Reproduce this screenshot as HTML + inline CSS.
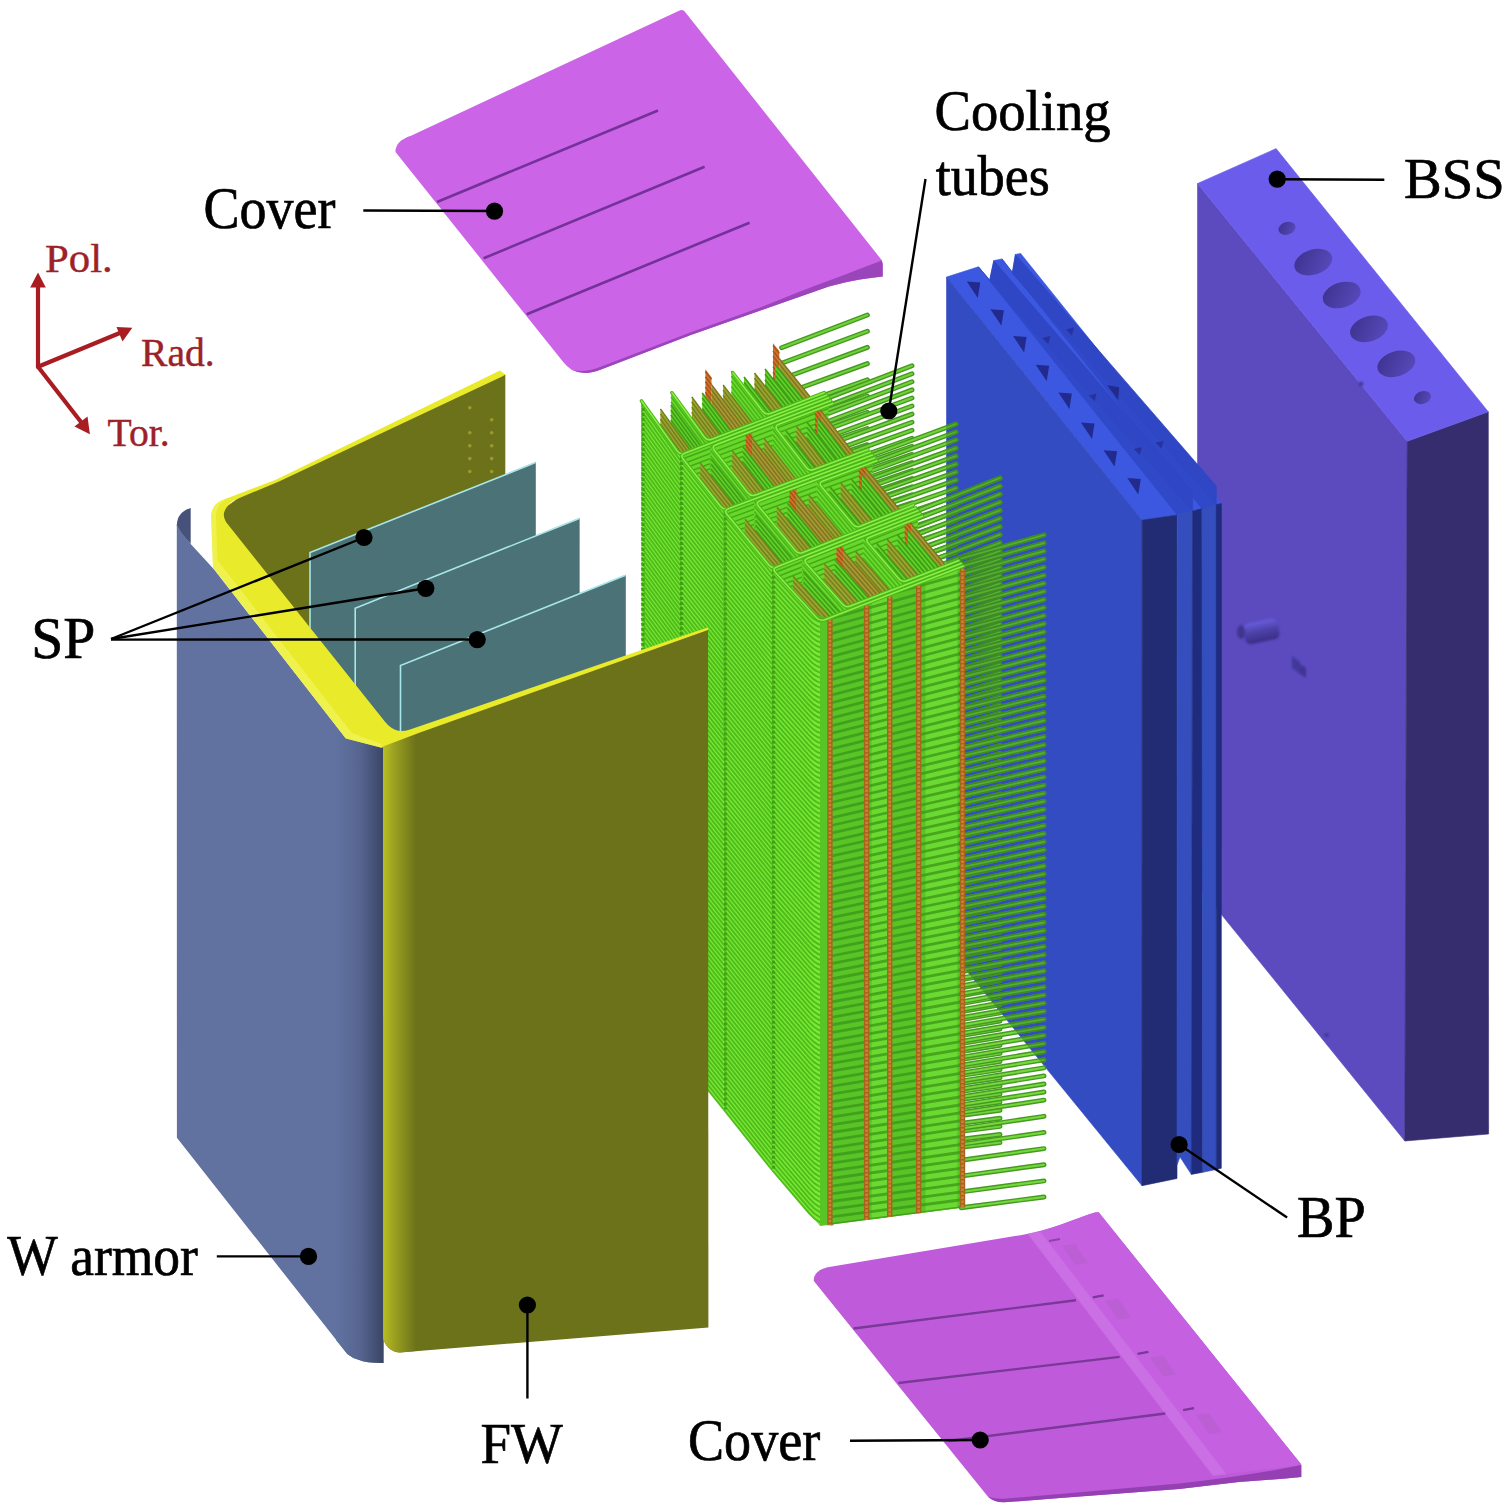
<!DOCTYPE html>
<html><head><meta charset="utf-8"><title>Exploded blanket module</title>
<style>html,body{margin:0;padding:0;background:#fff;}body{width:1506px;height:1510px;overflow:hidden;font-family:"Liberation Serif",serif;}svg{display:block}</style>
</head><body>
<svg width="1506" height="1510" viewBox="0 0 1506 1510">
<defs>
<filter id="b05" x="-20%" y="-20%" width="140%" height="140%"><feGaussianBlur stdDeviation="0.6"/></filter>
<filter id="b1" x="-20%" y="-20%" width="140%" height="140%"><feGaussianBlur stdDeviation="1"/></filter>
<linearGradient id="hg" x1="0" y1="0" x2="1" y2="0.6"><stop offset="0" stop-color="#3b318c"/><stop offset="1" stop-color="#5648b8"/></linearGradient>
<linearGradient id="wag" gradientUnits="userSpaceOnUse" x1="336" y1="0" x2="381.5" y2="0"><stop offset="0" stop-color="#6272a0"/><stop offset=".55" stop-color="#55648f"/><stop offset="1" stop-color="#3c4768"/></linearGradient>
<linearGradient id="fwg" gradientUnits="userSpaceOnUse" x1="383" y1="0" x2="416" y2="0"><stop offset="0" stop-color="#b9bd25"/><stop offset=".35" stop-color="#9aa020"/><stop offset="1" stop-color="#6c721a"/></linearGradient>
<linearGradient id="cyl" x1="0" y1="0" x2="0" y2="1"><stop offset="0" stop-color="#6a5cde"/><stop offset=".45" stop-color="#4e42aa"/><stop offset="1" stop-color="#382e84"/></linearGradient>
<filter id="tb" filterUnits="userSpaceOnUse" x="600" y="280" width="480" height="980"><feGaussianBlur stdDeviation="0.45"/></filter>
</defs>
<rect width="1506" height="1510" fill="#fff"/>
<g id="bss">
<polygon points="1197.5,183.5 1407.2,441.3 1404.8,1141.0 1197.5,885.0" fill="#5b4bbf" stroke="#5b4bbf" stroke-width="0.6" stroke-linejoin="round" />
<polygon points="1407.2,441.3 1488.3,411.8 1488.6,1134.0 1404.8,1141.0" fill="#352d6d" stroke="#352d6d" stroke-width="0.6" stroke-linejoin="round" />
<polygon points="1197.5,183.5 1276.1,148.6 1488.3,411.8 1407.2,441.3" fill="#6b5cec" stroke="#6b5cec" stroke-width="0.6" stroke-linejoin="round" />
<ellipse cx="1287" cy="228.3" rx="8.7" ry="6.3" transform="rotate(-18 1287 228.3)" fill="url(#hg)"/>
<ellipse cx="1313.3" cy="262.2" rx="19.5" ry="12.5" transform="rotate(-18 1313.3 262.2)" fill="url(#hg)"/>
<ellipse cx="1341.7" cy="295" rx="19.5" ry="12.5" transform="rotate(-18 1341.7 295)" fill="url(#hg)"/>
<ellipse cx="1369" cy="328.8" rx="19.5" ry="12.5" transform="rotate(-18 1369 328.8)" fill="url(#hg)"/>
<ellipse cx="1396.3" cy="363.8" rx="19.5" ry="12.5" transform="rotate(-18 1396.3 363.8)" fill="url(#hg)"/>
<ellipse cx="1422.5" cy="397.6" rx="8.7" ry="6.3" transform="rotate(-18 1422.5 397.6)" fill="url(#hg)"/>
<g filter="url(#b1)">
<rect x="1244" y="621" width="35" height="21" rx="6" transform="rotate(-12 1261 632)" fill="url(#cyl)"/>
<ellipse cx="1241" cy="632" rx="4" ry="7" fill="#3f3590"/>
<path d="M1292,656 l8,6 l0,12 l-8,-6z" fill="#43389a"/><path d="M1300,664 l6,4 l0,10 l-6,-4z" fill="#3f3590"/>
<circle cx="1326.5" cy="1035" r="2" fill="#3f3590"/><circle cx="1361" cy="384" r="2.2" fill="#3f3590"/>
</g></g>
<g id="bp">
<polygon points="946.5,277.0 978.4,266.8 989.7,280.1 993.8,260.6 1002.0,258.9 1012.3,273.0 1015.4,254.4 1020.6,253.4 1221.4,503.6 1216.3,504.7 1201.9,508.8 1192.6,510.9 1177.2,515.0 1142.2,520.1" fill="#3c58e0" stroke="#3c58e0" stroke-width="0.6" stroke-linejoin="round" />
<polygon points="978.4,266.8 989.7,280.1 1192.6,510.9 1177.2,515.0" fill="#3049c8" stroke="#3049c8" stroke-width="0.6" stroke-linejoin="round" />
<polygon points="1002.0,258.9 1012.3,273.0 1216.3,504.7 1201.9,508.8" fill="#3049c8" stroke="#3049c8" stroke-width="0.6" stroke-linejoin="round" />
<polygon points="989.7,280.1 993.8,260.6 1192.6,492.0 1192.6,510.9" fill="#2f47c4" stroke="#2f47c4" stroke-width="0.6" stroke-linejoin="round" />
<polygon points="1012.3,273.0 1015.4,254.4 1216.3,486.0 1216.3,504.7" fill="#2f47c4" stroke="#2f47c4" stroke-width="0.6" stroke-linejoin="round" />
<polygon points="946.5,277.0 1142.2,520.1 1142.0,1185.7 946.5,946.0" fill="#344cc2" stroke="#344cc2" stroke-width="0.6" stroke-linejoin="round" />
<polygon points="1142.2,520.1 1177.2,515.0 1177.0,1178.5 1142.0,1185.7" fill="#212c74" stroke="#212c74" stroke-width="0.6" stroke-linejoin="round" />
<polygon points="1177.2,515.0 1192.6,510.9 1191.4,1174.4 1180.0,1157.0 1177.0,1165.0" fill="#344ebe" stroke="#344ebe" stroke-width="0.6" stroke-linejoin="round" />
<polygon points="1192.6,510.9 1201.9,508.8 1202.8,1172.3 1191.4,1174.4" fill="#1f2b7c" stroke="#1f2b7c" stroke-width="0.6" stroke-linejoin="round" />
<polygon points="1201.9,508.8 1216.3,504.7 1216.3,1169.5 1202.8,1172.3" fill="#344ebe" stroke="#344ebe" stroke-width="0.6" stroke-linejoin="round" />
<polygon points="1216.3,504.7 1221.4,503.6 1221.3,1168.2 1216.3,1169.5" fill="#1f2b7c" stroke="#1f2b7c" stroke-width="0.6" stroke-linejoin="round" />
<g fill="#212b8e" filter="url(#b05)">
<path d="M966.8,281.4 L980.3,282.4 L977.8,297.9z"/>
<path d="M990.4,309.2 L1003.9,310.2 L1001.4,325.7z"/>
<path d="M1013.1,335.9 L1026.6,336.9 L1024.1,352.4z"/>
<path d="M1035.7,364.7 L1049.2,365.7 L1046.7,381.2z"/>
<path d="M1058.4,392.5 L1071.9,393.5 L1069.4,409.0z"/>
<path d="M1081.0,422.4 L1094.5,423.4 L1092.0,438.9z"/>
<path d="M1103.6,450.2 L1117.1,451.2 L1114.6,466.7z"/>
<path d="M1127.3,478.0 L1140.8,479.0 L1138.3,494.5z"/>
<path d="M1107.2,385.3 L1119.2,387.3 L1118.2,400.3z"/>
<path d="M1042.3,337.9 l8,-2 l-2,8z" opacity=".7"/>
<path d="M1066.0,329.6 l8,-2 l-2,8z" opacity=".7"/>
<path d="M1088.6,395.5 l8,-2 l-2,8z" opacity=".7"/>
<path d="M1133.9,449.0 l8,-2 l-2,8z" opacity=".7"/>
<path d="M1155.5,442.8 l8,-2 l-2,8z" opacity=".7"/>
</g></g>
<g id="tubes" fill="none" stroke-linecap="round" stroke-linejoin="round" filter="url(#tb)">
<clipPath id="bpc"><polygon points="946.5,277 1142.2,520.1 1142,1185.7 946.5,946"/></clipPath>
<path d="M781.6,347.7L867.4,315.0M781.6,363.3L867.4,331.2M781.6,379.0L867.4,347.4M781.6,394.7L867.4,363.6M781.6,410.3L867.4,379.8M781.6,426.0L867.4,396.0M781.6,441.6L867.4,412.2M781.6,457.3L867.4,428.5M781.6,473.0L867.4,444.7M781.6,488.6L867.4,460.9M781.6,504.3L867.4,477.1M781.6,519.9L867.4,493.3M781.6,535.6L867.4,509.5M781.6,551.3L867.4,525.7M781.6,566.9L867.4,541.9M781.6,582.6L867.4,558.1M781.6,598.2L867.4,574.3M781.6,613.9L867.4,590.5M781.6,629.6L867.4,606.7M781.6,645.2L867.4,622.9M781.6,660.9L867.4,639.1M781.6,676.6L867.4,655.4M781.6,692.2L867.4,671.6M781.6,707.9L867.4,687.8M781.6,723.5L867.4,704.0M781.6,739.2L867.4,720.2M781.6,754.9L867.4,736.4M781.6,770.5L867.4,752.6M781.6,786.2L867.4,768.8M781.6,801.8L867.4,785.0M781.6,817.5L867.4,801.2M781.6,833.2L867.4,817.4M781.6,848.8L867.4,833.6M781.6,864.5L867.4,849.8M781.6,880.1L867.4,866.0M781.6,895.8L867.4,882.3M781.6,911.5L867.4,898.5M781.6,927.1L867.4,914.7M781.6,942.8L867.4,930.9M781.6,958.4L867.4,947.1M781.6,974.1L867.4,963.3M781.6,989.8L867.4,979.5" stroke="#459a22" stroke-width="4.9"/>
<path d="M781.6,347.7L867.4,315.0M781.6,363.3L867.4,331.2M781.6,379.0L867.4,347.4M781.6,394.7L867.4,363.6M781.6,410.3L867.4,379.8M781.6,426.0L867.4,396.0M781.6,441.6L867.4,412.2M781.6,457.3L867.4,428.5M781.6,473.0L867.4,444.7M781.6,488.6L867.4,460.9M781.6,504.3L867.4,477.1M781.6,519.9L867.4,493.3M781.6,535.6L867.4,509.5M781.6,551.3L867.4,525.7M781.6,566.9L867.4,541.9M781.6,582.6L867.4,558.1M781.6,598.2L867.4,574.3M781.6,613.9L867.4,590.5M781.6,629.6L867.4,606.7M781.6,645.2L867.4,622.9M781.6,660.9L867.4,639.1M781.6,676.6L867.4,655.4M781.6,692.2L867.4,671.6M781.6,707.9L867.4,687.8M781.6,723.5L867.4,704.0M781.6,739.2L867.4,720.2M781.6,754.9L867.4,736.4M781.6,770.5L867.4,752.6M781.6,786.2L867.4,768.8M781.6,801.8L867.4,785.0M781.6,817.5L867.4,801.2M781.6,833.2L867.4,817.4M781.6,848.8L867.4,833.6M781.6,864.5L867.4,849.8M781.6,880.1L867.4,866.0M781.6,895.8L867.4,882.3M781.6,911.5L867.4,898.5M781.6,927.1L867.4,914.7M781.6,942.8L867.4,930.9M781.6,958.4L867.4,947.1M781.6,974.1L867.4,963.3M781.6,989.8L867.4,979.5" stroke="#72d23a" stroke-width="2.0"/>
<path d="M823.8,399.6L912.0,365.7M823.8,407.4L912.0,373.8M823.8,415.2L912.0,381.8M823.8,423.0L912.0,389.9M823.8,430.8L912.0,398.0M823.8,438.5L912.0,406.0M823.8,446.3L912.0,414.1M823.8,454.1L912.0,422.2M823.8,461.9L912.0,430.2M823.8,469.7L912.0,438.3M823.8,477.4L912.0,446.3M823.8,485.2L912.0,454.4M823.8,493.0L912.0,462.5M823.8,500.8L912.0,470.5M823.8,508.5L912.0,478.6M823.8,516.3L912.0,486.7M823.8,524.1L912.0,494.7M823.8,531.9L912.0,502.8M823.8,539.7L912.0,510.9M823.8,547.4L912.0,518.9M823.8,555.2L912.0,527.0M823.8,563.0L912.0,535.1M823.8,570.8L912.0,543.1M823.8,578.6L912.0,551.2M823.8,586.3L912.0,559.3M823.8,594.1L912.0,567.3M823.8,601.9L912.0,575.4M823.8,609.7L912.0,583.4M823.8,617.5L912.0,591.5M823.8,625.2L912.0,599.6M823.8,633.0L912.0,607.6M823.8,640.8L912.0,615.7M823.8,648.6L912.0,623.8M823.8,656.4L912.0,631.8M823.8,664.1L912.0,639.9M823.8,671.9L912.0,648.0M823.8,679.7L912.0,656.0M823.8,687.5L912.0,664.1M823.8,695.3L912.0,672.2M823.8,703.0L912.0,680.2M823.8,710.8L912.0,688.3M823.8,718.6L912.0,696.3M823.8,726.4L912.0,704.4M823.8,734.2L912.0,712.5M823.8,741.9L912.0,720.5M823.8,749.7L912.0,728.6M823.8,757.5L912.0,736.7M823.8,765.3L912.0,744.7M823.8,773.1L912.0,752.8M823.8,780.8L912.0,760.9M823.8,788.6L912.0,768.9M823.8,796.4L912.0,777.0M823.8,804.2L912.0,785.1M823.8,812.0L912.0,793.1M823.8,819.7L912.0,801.2M823.8,827.5L912.0,809.3M823.8,835.3L912.0,817.3M823.8,843.1L912.0,825.4M823.8,850.9L912.0,833.4M823.8,858.6L912.0,841.5M823.8,866.4L912.0,849.6M823.8,874.2L912.0,857.6M823.8,882.0L912.0,865.7M823.8,889.8L912.0,873.8M823.8,897.5L912.0,881.8M823.8,905.3L912.0,889.9M823.8,913.1L912.0,898.0M823.8,920.9L912.0,906.0M823.8,928.6L912.0,914.1M823.8,936.4L912.0,922.2M823.8,944.2L912.0,930.2M823.8,952.0L912.0,938.3M823.8,959.8L912.0,946.4M823.8,967.5L912.0,954.4M823.8,975.3L912.0,962.5M823.8,983.1L912.0,970.5M823.8,990.9L912.0,978.6M823.8,998.7L912.0,986.7M823.8,1006.4L912.0,994.7M823.8,1014.2L912.0,1002.8M823.8,1022.0L912.0,1010.9M823.8,1029.8L912.0,1018.9M823.8,1037.6L912.0,1027.0" stroke="#459a22" stroke-width="4.9"/>
<path d="M823.8,399.6L912.0,365.7M823.8,407.4L912.0,373.8M823.8,415.2L912.0,381.8M823.8,423.0L912.0,389.9M823.8,430.8L912.0,398.0M823.8,438.5L912.0,406.0M823.8,446.3L912.0,414.1M823.8,454.1L912.0,422.2M823.8,461.9L912.0,430.2M823.8,469.7L912.0,438.3M823.8,477.4L912.0,446.3M823.8,485.2L912.0,454.4M823.8,493.0L912.0,462.5M823.8,500.8L912.0,470.5M823.8,508.5L912.0,478.6M823.8,516.3L912.0,486.7M823.8,524.1L912.0,494.7M823.8,531.9L912.0,502.8M823.8,539.7L912.0,510.9M823.8,547.4L912.0,518.9M823.8,555.2L912.0,527.0M823.8,563.0L912.0,535.1M823.8,570.8L912.0,543.1M823.8,578.6L912.0,551.2M823.8,586.3L912.0,559.3M823.8,594.1L912.0,567.3M823.8,601.9L912.0,575.4M823.8,609.7L912.0,583.4M823.8,617.5L912.0,591.5M823.8,625.2L912.0,599.6M823.8,633.0L912.0,607.6M823.8,640.8L912.0,615.7M823.8,648.6L912.0,623.8M823.8,656.4L912.0,631.8M823.8,664.1L912.0,639.9M823.8,671.9L912.0,648.0M823.8,679.7L912.0,656.0M823.8,687.5L912.0,664.1M823.8,695.3L912.0,672.2M823.8,703.0L912.0,680.2M823.8,710.8L912.0,688.3M823.8,718.6L912.0,696.3M823.8,726.4L912.0,704.4M823.8,734.2L912.0,712.5M823.8,741.9L912.0,720.5M823.8,749.7L912.0,728.6M823.8,757.5L912.0,736.7M823.8,765.3L912.0,744.7M823.8,773.1L912.0,752.8M823.8,780.8L912.0,760.9M823.8,788.6L912.0,768.9M823.8,796.4L912.0,777.0M823.8,804.2L912.0,785.1M823.8,812.0L912.0,793.1M823.8,819.7L912.0,801.2M823.8,827.5L912.0,809.3M823.8,835.3L912.0,817.3M823.8,843.1L912.0,825.4M823.8,850.9L912.0,833.4M823.8,858.6L912.0,841.5M823.8,866.4L912.0,849.6M823.8,874.2L912.0,857.6M823.8,882.0L912.0,865.7M823.8,889.8L912.0,873.8M823.8,897.5L912.0,881.8M823.8,905.3L912.0,889.9M823.8,913.1L912.0,898.0M823.8,920.9L912.0,906.0M823.8,928.6L912.0,914.1M823.8,936.4L912.0,922.2M823.8,944.2L912.0,930.2M823.8,952.0L912.0,938.3M823.8,959.8L912.0,946.4M823.8,967.5L912.0,954.4M823.8,975.3L912.0,962.5M823.8,983.1L912.0,970.5M823.8,990.9L912.0,978.6M823.8,998.7L912.0,986.7M823.8,1006.4L912.0,994.7M823.8,1014.2L912.0,1002.8M823.8,1022.0L912.0,1010.9M823.8,1029.8L912.0,1018.9M823.8,1037.6L912.0,1027.0" stroke="#72d23a" stroke-width="2.0"/>
<path d="M867.7,456.8L956.0,424.0M867.7,464.6L956.0,432.0M867.7,472.3L956.0,440.0M867.7,480.1L956.0,448.1M867.7,487.8L956.0,456.1M867.7,495.6L956.0,464.1M867.7,503.3L956.0,472.1M867.7,511.1L956.0,480.1M867.7,518.8L956.0,488.2M867.7,526.6L956.0,496.2M867.7,534.3L956.0,504.2M867.7,542.1L956.0,512.2M867.7,549.8L956.0,520.2M867.7,557.6L956.0,528.3M867.7,565.3L956.0,536.3M867.7,573.1L956.0,544.3M867.7,580.8L956.0,552.3M867.7,588.6L956.0,560.3M867.7,596.3L956.0,568.4M867.7,604.1L956.0,576.4M867.7,611.8L956.0,584.4M867.7,619.5L956.0,592.4M867.7,627.3L956.0,600.4M867.7,635.0L956.0,608.4M867.7,642.8L956.0,616.5M867.7,650.5L956.0,624.5M867.7,658.3L956.0,632.5M867.7,666.0L956.0,640.5M867.7,673.8L956.0,648.5M867.7,681.5L956.0,656.6M867.7,689.3L956.0,664.6M867.7,697.0L956.0,672.6M867.7,704.8L956.0,680.6M867.7,712.5L956.0,688.6M867.7,720.3L956.0,696.7M867.7,728.0L956.0,704.7M867.7,735.8L956.0,712.7M867.7,743.5L956.0,720.7M867.7,751.3L956.0,728.7M867.7,759.0L956.0,736.8M867.7,766.8L956.0,744.8M867.7,774.5L956.0,752.8M867.7,782.3L956.0,760.8M867.7,790.0L956.0,768.8M867.7,797.8L956.0,776.9M867.7,805.5L956.0,784.9M867.7,813.3L956.0,792.9M867.7,821.0L956.0,800.9M867.7,828.8L956.0,808.9M867.7,836.5L956.0,817.0M867.7,844.3L956.0,825.0M867.7,852.0L956.0,833.0M867.7,859.7L956.0,841.0M867.7,867.5L956.0,849.0M867.7,875.2L956.0,857.1M867.7,883.0L956.0,865.1M867.7,890.7L956.0,873.1M867.7,898.5L956.0,881.1M867.7,906.2L956.0,889.1M867.7,914.0L956.0,897.2M867.7,921.7L956.0,905.2M867.7,929.5L956.0,913.2M867.7,937.2L956.0,921.2M867.7,945.0L956.0,929.2M867.7,952.7L956.0,937.2M867.7,960.5L956.0,945.3M867.7,968.2L956.0,953.3M867.7,976.0L956.0,961.3M867.7,983.7L956.0,969.3M867.7,991.5L956.0,977.3M867.7,999.2L956.0,985.4M867.7,1007.0L956.0,993.4M867.7,1014.7L956.0,1001.4M867.7,1022.5L956.0,1009.4M867.7,1030.2L956.0,1017.4M867.7,1038.0L956.0,1025.5M867.7,1045.7L956.0,1033.5M867.7,1053.5L956.0,1041.5M867.7,1061.2L956.0,1049.5M867.7,1069.0L956.0,1057.5M867.7,1076.7L956.0,1065.6M867.7,1084.5L956.0,1073.6M867.7,1092.2L956.0,1081.6" stroke="#459a22" stroke-width="4.9"/>
<path d="M867.7,456.8L956.0,424.0M867.7,464.6L956.0,432.0M867.7,472.3L956.0,440.0M867.7,480.1L956.0,448.1M867.7,487.8L956.0,456.1M867.7,495.6L956.0,464.1M867.7,503.3L956.0,472.1M867.7,511.1L956.0,480.1M867.7,518.8L956.0,488.2M867.7,526.6L956.0,496.2M867.7,534.3L956.0,504.2M867.7,542.1L956.0,512.2M867.7,549.8L956.0,520.2M867.7,557.6L956.0,528.3M867.7,565.3L956.0,536.3M867.7,573.1L956.0,544.3M867.7,580.8L956.0,552.3M867.7,588.6L956.0,560.3M867.7,596.3L956.0,568.4M867.7,604.1L956.0,576.4M867.7,611.8L956.0,584.4M867.7,619.5L956.0,592.4M867.7,627.3L956.0,600.4M867.7,635.0L956.0,608.4M867.7,642.8L956.0,616.5M867.7,650.5L956.0,624.5M867.7,658.3L956.0,632.5M867.7,666.0L956.0,640.5M867.7,673.8L956.0,648.5M867.7,681.5L956.0,656.6M867.7,689.3L956.0,664.6M867.7,697.0L956.0,672.6M867.7,704.8L956.0,680.6M867.7,712.5L956.0,688.6M867.7,720.3L956.0,696.7M867.7,728.0L956.0,704.7M867.7,735.8L956.0,712.7M867.7,743.5L956.0,720.7M867.7,751.3L956.0,728.7M867.7,759.0L956.0,736.8M867.7,766.8L956.0,744.8M867.7,774.5L956.0,752.8M867.7,782.3L956.0,760.8M867.7,790.0L956.0,768.8M867.7,797.8L956.0,776.9M867.7,805.5L956.0,784.9M867.7,813.3L956.0,792.9M867.7,821.0L956.0,800.9M867.7,828.8L956.0,808.9M867.7,836.5L956.0,817.0M867.7,844.3L956.0,825.0M867.7,852.0L956.0,833.0M867.7,859.7L956.0,841.0M867.7,867.5L956.0,849.0M867.7,875.2L956.0,857.1M867.7,883.0L956.0,865.1M867.7,890.7L956.0,873.1M867.7,898.5L956.0,881.1M867.7,906.2L956.0,889.1M867.7,914.0L956.0,897.2M867.7,921.7L956.0,905.2M867.7,929.5L956.0,913.2M867.7,937.2L956.0,921.2M867.7,945.0L956.0,929.2M867.7,952.7L956.0,937.2M867.7,960.5L956.0,945.3M867.7,968.2L956.0,953.3M867.7,976.0L956.0,961.3M867.7,983.7L956.0,969.3M867.7,991.5L956.0,977.3M867.7,999.2L956.0,985.4M867.7,1007.0L956.0,993.4M867.7,1014.7L956.0,1001.4M867.7,1022.5L956.0,1009.4M867.7,1030.2L956.0,1017.4M867.7,1038.0L956.0,1025.5M867.7,1045.7L956.0,1033.5M867.7,1053.5L956.0,1041.5M867.7,1061.2L956.0,1049.5M867.7,1069.0L956.0,1057.5M867.7,1076.7L956.0,1065.6M867.7,1084.5L956.0,1073.6M867.7,1092.2L956.0,1081.6" stroke="#72d23a" stroke-width="2.0"/>
<path d="M867.7,456.8L956.0,424.0M867.7,464.6L956.0,432.0M867.7,472.3L956.0,440.0M867.7,480.1L956.0,448.1M867.7,487.8L956.0,456.1M867.7,495.6L956.0,464.1M867.7,503.3L956.0,472.1M867.7,511.1L956.0,480.1M867.7,518.8L956.0,488.2M867.7,526.6L956.0,496.2M867.7,534.3L956.0,504.2M867.7,542.1L956.0,512.2M867.7,549.8L956.0,520.2M867.7,557.6L956.0,528.3M867.7,565.3L956.0,536.3M867.7,573.1L956.0,544.3M867.7,580.8L956.0,552.3M867.7,588.6L956.0,560.3M867.7,596.3L956.0,568.4M867.7,604.1L956.0,576.4M867.7,611.8L956.0,584.4M867.7,619.5L956.0,592.4M867.7,627.3L956.0,600.4M867.7,635.0L956.0,608.4M867.7,642.8L956.0,616.5M867.7,650.5L956.0,624.5M867.7,658.3L956.0,632.5M867.7,666.0L956.0,640.5M867.7,673.8L956.0,648.5M867.7,681.5L956.0,656.6M867.7,689.3L956.0,664.6M867.7,697.0L956.0,672.6M867.7,704.8L956.0,680.6M867.7,712.5L956.0,688.6M867.7,720.3L956.0,696.7M867.7,728.0L956.0,704.7M867.7,735.8L956.0,712.7M867.7,743.5L956.0,720.7M867.7,751.3L956.0,728.7M867.7,759.0L956.0,736.8M867.7,766.8L956.0,744.8M867.7,774.5L956.0,752.8M867.7,782.3L956.0,760.8M867.7,790.0L956.0,768.8M867.7,797.8L956.0,776.9M867.7,805.5L956.0,784.9M867.7,813.3L956.0,792.9M867.7,821.0L956.0,800.9M867.7,828.8L956.0,808.9M867.7,836.5L956.0,817.0M867.7,844.3L956.0,825.0M867.7,852.0L956.0,833.0M867.7,859.7L956.0,841.0M867.7,867.5L956.0,849.0M867.7,875.2L956.0,857.1M867.7,883.0L956.0,865.1M867.7,890.7L956.0,873.1M867.7,898.5L956.0,881.1M867.7,906.2L956.0,889.1M867.7,914.0L956.0,897.2M867.7,921.7L956.0,905.2M867.7,929.5L956.0,913.2M867.7,937.2L956.0,921.2M867.7,945.0L956.0,929.2M867.7,952.7L956.0,937.2M867.7,960.5L956.0,945.3M867.7,968.2L956.0,953.3M867.7,976.0L956.0,961.3M867.7,983.7L956.0,969.3M867.7,991.5L956.0,977.3M867.7,999.2L956.0,985.4M867.7,1007.0L956.0,993.4M867.7,1014.7L956.0,1001.4M867.7,1022.5L956.0,1009.4M867.7,1030.2L956.0,1017.4M867.7,1038.0L956.0,1025.5M867.7,1045.7L956.0,1033.5M867.7,1053.5L956.0,1041.5M867.7,1061.2L956.0,1049.5M867.7,1069.0L956.0,1057.5M867.7,1076.7L956.0,1065.6M867.7,1084.5L956.0,1073.6M867.7,1092.2L956.0,1081.6" stroke="#3c8a26" stroke-width="4.9" clip-path="url(#bpc)"/>
<path d="M867.7,456.8L956.0,424.0M867.7,464.6L956.0,432.0M867.7,472.3L956.0,440.0M867.7,480.1L956.0,448.1M867.7,487.8L956.0,456.1M867.7,495.6L956.0,464.1M867.7,503.3L956.0,472.1M867.7,511.1L956.0,480.1M867.7,518.8L956.0,488.2M867.7,526.6L956.0,496.2M867.7,534.3L956.0,504.2M867.7,542.1L956.0,512.2M867.7,549.8L956.0,520.2M867.7,557.6L956.0,528.3M867.7,565.3L956.0,536.3M867.7,573.1L956.0,544.3M867.7,580.8L956.0,552.3M867.7,588.6L956.0,560.3M867.7,596.3L956.0,568.4M867.7,604.1L956.0,576.4M867.7,611.8L956.0,584.4M867.7,619.5L956.0,592.4M867.7,627.3L956.0,600.4M867.7,635.0L956.0,608.4M867.7,642.8L956.0,616.5M867.7,650.5L956.0,624.5M867.7,658.3L956.0,632.5M867.7,666.0L956.0,640.5M867.7,673.8L956.0,648.5M867.7,681.5L956.0,656.6M867.7,689.3L956.0,664.6M867.7,697.0L956.0,672.6M867.7,704.8L956.0,680.6M867.7,712.5L956.0,688.6M867.7,720.3L956.0,696.7M867.7,728.0L956.0,704.7M867.7,735.8L956.0,712.7M867.7,743.5L956.0,720.7M867.7,751.3L956.0,728.7M867.7,759.0L956.0,736.8M867.7,766.8L956.0,744.8M867.7,774.5L956.0,752.8M867.7,782.3L956.0,760.8M867.7,790.0L956.0,768.8M867.7,797.8L956.0,776.9M867.7,805.5L956.0,784.9M867.7,813.3L956.0,792.9M867.7,821.0L956.0,800.9M867.7,828.8L956.0,808.9M867.7,836.5L956.0,817.0M867.7,844.3L956.0,825.0M867.7,852.0L956.0,833.0M867.7,859.7L956.0,841.0M867.7,867.5L956.0,849.0M867.7,875.2L956.0,857.1M867.7,883.0L956.0,865.1M867.7,890.7L956.0,873.1M867.7,898.5L956.0,881.1M867.7,906.2L956.0,889.1M867.7,914.0L956.0,897.2M867.7,921.7L956.0,905.2M867.7,929.5L956.0,913.2M867.7,937.2L956.0,921.2M867.7,945.0L956.0,929.2M867.7,952.7L956.0,937.2M867.7,960.5L956.0,945.3M867.7,968.2L956.0,953.3M867.7,976.0L956.0,961.3M867.7,983.7L956.0,969.3M867.7,991.5L956.0,977.3M867.7,999.2L956.0,985.4M867.7,1007.0L956.0,993.4M867.7,1014.7L956.0,1001.4M867.7,1022.5L956.0,1009.4M867.7,1030.2L956.0,1017.4M867.7,1038.0L956.0,1025.5M867.7,1045.7L956.0,1033.5M867.7,1053.5L956.0,1041.5M867.7,1061.2L956.0,1049.5M867.7,1069.0L956.0,1057.5M867.7,1076.7L956.0,1065.6M867.7,1084.5L956.0,1073.6M867.7,1092.2L956.0,1081.6" stroke="#55ae30" stroke-width="1.8" clip-path="url(#bpc)"/>
<path d="M913.4,512.5L1000.0,478.0M913.4,520.3L1000.0,486.1M913.4,528.1L1000.0,494.2M913.4,535.9L1000.0,502.3M913.4,543.7L1000.0,510.4M913.4,551.6L1000.0,518.5M913.4,559.4L1000.0,526.6M913.4,567.2L1000.0,534.7M913.4,575.0L1000.0,542.8M913.4,582.8L1000.0,550.9M913.4,590.6L1000.0,559.0M913.4,598.4L1000.0,567.2M913.4,606.2L1000.0,575.3M913.4,614.0L1000.0,583.4M913.4,621.9L1000.0,591.5M913.4,629.7L1000.0,599.6M913.4,637.5L1000.0,607.7M913.4,645.3L1000.0,615.8M913.4,653.1L1000.0,623.9M913.4,660.9L1000.0,632.0M913.4,668.7L1000.0,640.1M913.4,676.5L1000.0,648.2M913.4,684.3L1000.0,656.3M913.4,692.2L1000.0,664.4M913.4,700.0L1000.0,672.5M913.4,707.8L1000.0,680.6M913.4,715.6L1000.0,688.7M913.4,723.4L1000.0,696.8M913.4,731.2L1000.0,704.9M913.4,739.0L1000.0,713.0M913.4,746.8L1000.0,721.1M913.4,754.6L1000.0,729.3M913.4,762.5L1000.0,737.4M913.4,770.3L1000.0,745.5M913.4,778.1L1000.0,753.6M913.4,785.9L1000.0,761.7M913.4,793.7L1000.0,769.8M913.4,801.5L1000.0,777.9M913.4,809.3L1000.0,786.0M913.4,817.1L1000.0,794.1M913.4,824.9L1000.0,802.2M913.4,832.8L1000.0,810.3M913.4,840.6L1000.0,818.4M913.4,848.4L1000.0,826.5M913.4,856.2L1000.0,834.6M913.4,864.0L1000.0,842.7M913.4,871.8L1000.0,850.8M913.4,879.6L1000.0,858.9M913.4,887.4L1000.0,867.0M913.4,895.2L1000.0,875.1M913.4,903.1L1000.0,883.2M913.4,910.9L1000.0,891.3M913.4,918.7L1000.0,899.5M913.4,926.5L1000.0,907.6M913.4,934.3L1000.0,915.7M913.4,942.1L1000.0,923.8M913.4,949.9L1000.0,931.9M913.4,957.7L1000.0,940.0M913.4,965.5L1000.0,948.1M913.4,973.4L1000.0,956.2M913.4,981.2L1000.0,964.3M913.4,989.0L1000.0,972.4M913.4,996.8L1000.0,980.5M913.4,1004.6L1000.0,988.6M913.4,1012.4L1000.0,996.7M913.4,1020.2L1000.0,1004.8M913.4,1028.0L1000.0,1012.9M913.4,1035.8L1000.0,1021.0M913.4,1043.7L1000.0,1029.1M913.4,1051.5L1000.0,1037.2M913.4,1059.3L1000.0,1045.3M913.4,1067.1L1000.0,1053.4M913.4,1074.9L1000.0,1061.6M913.4,1082.7L1000.0,1069.7M913.4,1090.5L1000.0,1077.8M913.4,1098.3L1000.0,1085.9M913.4,1106.1L1000.0,1094.0M913.4,1114.0L1000.0,1102.1M913.4,1121.8L1000.0,1110.2M913.4,1129.6L1000.0,1118.3M913.4,1137.4L1000.0,1126.4M913.4,1145.2L1000.0,1134.5M913.4,1153.0L1000.0,1142.6" stroke="#459a22" stroke-width="4.9"/>
<path d="M913.4,512.5L1000.0,478.0M913.4,520.3L1000.0,486.1M913.4,528.1L1000.0,494.2M913.4,535.9L1000.0,502.3M913.4,543.7L1000.0,510.4M913.4,551.6L1000.0,518.5M913.4,559.4L1000.0,526.6M913.4,567.2L1000.0,534.7M913.4,575.0L1000.0,542.8M913.4,582.8L1000.0,550.9M913.4,590.6L1000.0,559.0M913.4,598.4L1000.0,567.2M913.4,606.2L1000.0,575.3M913.4,614.0L1000.0,583.4M913.4,621.9L1000.0,591.5M913.4,629.7L1000.0,599.6M913.4,637.5L1000.0,607.7M913.4,645.3L1000.0,615.8M913.4,653.1L1000.0,623.9M913.4,660.9L1000.0,632.0M913.4,668.7L1000.0,640.1M913.4,676.5L1000.0,648.2M913.4,684.3L1000.0,656.3M913.4,692.2L1000.0,664.4M913.4,700.0L1000.0,672.5M913.4,707.8L1000.0,680.6M913.4,715.6L1000.0,688.7M913.4,723.4L1000.0,696.8M913.4,731.2L1000.0,704.9M913.4,739.0L1000.0,713.0M913.4,746.8L1000.0,721.1M913.4,754.6L1000.0,729.3M913.4,762.5L1000.0,737.4M913.4,770.3L1000.0,745.5M913.4,778.1L1000.0,753.6M913.4,785.9L1000.0,761.7M913.4,793.7L1000.0,769.8M913.4,801.5L1000.0,777.9M913.4,809.3L1000.0,786.0M913.4,817.1L1000.0,794.1M913.4,824.9L1000.0,802.2M913.4,832.8L1000.0,810.3M913.4,840.6L1000.0,818.4M913.4,848.4L1000.0,826.5M913.4,856.2L1000.0,834.6M913.4,864.0L1000.0,842.7M913.4,871.8L1000.0,850.8M913.4,879.6L1000.0,858.9M913.4,887.4L1000.0,867.0M913.4,895.2L1000.0,875.1M913.4,903.1L1000.0,883.2M913.4,910.9L1000.0,891.3M913.4,918.7L1000.0,899.5M913.4,926.5L1000.0,907.6M913.4,934.3L1000.0,915.7M913.4,942.1L1000.0,923.8M913.4,949.9L1000.0,931.9M913.4,957.7L1000.0,940.0M913.4,965.5L1000.0,948.1M913.4,973.4L1000.0,956.2M913.4,981.2L1000.0,964.3M913.4,989.0L1000.0,972.4M913.4,996.8L1000.0,980.5M913.4,1004.6L1000.0,988.6M913.4,1012.4L1000.0,996.7M913.4,1020.2L1000.0,1004.8M913.4,1028.0L1000.0,1012.9M913.4,1035.8L1000.0,1021.0M913.4,1043.7L1000.0,1029.1M913.4,1051.5L1000.0,1037.2M913.4,1059.3L1000.0,1045.3M913.4,1067.1L1000.0,1053.4M913.4,1074.9L1000.0,1061.6M913.4,1082.7L1000.0,1069.7M913.4,1090.5L1000.0,1077.8M913.4,1098.3L1000.0,1085.9M913.4,1106.1L1000.0,1094.0M913.4,1114.0L1000.0,1102.1M913.4,1121.8L1000.0,1110.2M913.4,1129.6L1000.0,1118.3M913.4,1137.4L1000.0,1126.4M913.4,1145.2L1000.0,1134.5M913.4,1153.0L1000.0,1142.6" stroke="#72d23a" stroke-width="2.0"/>
<path d="M913.4,512.5L1000.0,478.0M913.4,520.3L1000.0,486.1M913.4,528.1L1000.0,494.2M913.4,535.9L1000.0,502.3M913.4,543.7L1000.0,510.4M913.4,551.6L1000.0,518.5M913.4,559.4L1000.0,526.6M913.4,567.2L1000.0,534.7M913.4,575.0L1000.0,542.8M913.4,582.8L1000.0,550.9M913.4,590.6L1000.0,559.0M913.4,598.4L1000.0,567.2M913.4,606.2L1000.0,575.3M913.4,614.0L1000.0,583.4M913.4,621.9L1000.0,591.5M913.4,629.7L1000.0,599.6M913.4,637.5L1000.0,607.7M913.4,645.3L1000.0,615.8M913.4,653.1L1000.0,623.9M913.4,660.9L1000.0,632.0M913.4,668.7L1000.0,640.1M913.4,676.5L1000.0,648.2M913.4,684.3L1000.0,656.3M913.4,692.2L1000.0,664.4M913.4,700.0L1000.0,672.5M913.4,707.8L1000.0,680.6M913.4,715.6L1000.0,688.7M913.4,723.4L1000.0,696.8M913.4,731.2L1000.0,704.9M913.4,739.0L1000.0,713.0M913.4,746.8L1000.0,721.1M913.4,754.6L1000.0,729.3M913.4,762.5L1000.0,737.4M913.4,770.3L1000.0,745.5M913.4,778.1L1000.0,753.6M913.4,785.9L1000.0,761.7M913.4,793.7L1000.0,769.8M913.4,801.5L1000.0,777.9M913.4,809.3L1000.0,786.0M913.4,817.1L1000.0,794.1M913.4,824.9L1000.0,802.2M913.4,832.8L1000.0,810.3M913.4,840.6L1000.0,818.4M913.4,848.4L1000.0,826.5M913.4,856.2L1000.0,834.6M913.4,864.0L1000.0,842.7M913.4,871.8L1000.0,850.8M913.4,879.6L1000.0,858.9M913.4,887.4L1000.0,867.0M913.4,895.2L1000.0,875.1M913.4,903.1L1000.0,883.2M913.4,910.9L1000.0,891.3M913.4,918.7L1000.0,899.5M913.4,926.5L1000.0,907.6M913.4,934.3L1000.0,915.7M913.4,942.1L1000.0,923.8M913.4,949.9L1000.0,931.9M913.4,957.7L1000.0,940.0M913.4,965.5L1000.0,948.1M913.4,973.4L1000.0,956.2M913.4,981.2L1000.0,964.3M913.4,989.0L1000.0,972.4M913.4,996.8L1000.0,980.5M913.4,1004.6L1000.0,988.6M913.4,1012.4L1000.0,996.7M913.4,1020.2L1000.0,1004.8M913.4,1028.0L1000.0,1012.9M913.4,1035.8L1000.0,1021.0M913.4,1043.7L1000.0,1029.1M913.4,1051.5L1000.0,1037.2M913.4,1059.3L1000.0,1045.3M913.4,1067.1L1000.0,1053.4M913.4,1074.9L1000.0,1061.6M913.4,1082.7L1000.0,1069.7M913.4,1090.5L1000.0,1077.8M913.4,1098.3L1000.0,1085.9M913.4,1106.1L1000.0,1094.0M913.4,1114.0L1000.0,1102.1M913.4,1121.8L1000.0,1110.2M913.4,1129.6L1000.0,1118.3M913.4,1137.4L1000.0,1126.4M913.4,1145.2L1000.0,1134.5M913.4,1153.0L1000.0,1142.6" stroke="#3c8a26" stroke-width="4.9" clip-path="url(#bpc)"/>
<path d="M913.4,512.5L1000.0,478.0M913.4,520.3L1000.0,486.1M913.4,528.1L1000.0,494.2M913.4,535.9L1000.0,502.3M913.4,543.7L1000.0,510.4M913.4,551.6L1000.0,518.5M913.4,559.4L1000.0,526.6M913.4,567.2L1000.0,534.7M913.4,575.0L1000.0,542.8M913.4,582.8L1000.0,550.9M913.4,590.6L1000.0,559.0M913.4,598.4L1000.0,567.2M913.4,606.2L1000.0,575.3M913.4,614.0L1000.0,583.4M913.4,621.9L1000.0,591.5M913.4,629.7L1000.0,599.6M913.4,637.5L1000.0,607.7M913.4,645.3L1000.0,615.8M913.4,653.1L1000.0,623.9M913.4,660.9L1000.0,632.0M913.4,668.7L1000.0,640.1M913.4,676.5L1000.0,648.2M913.4,684.3L1000.0,656.3M913.4,692.2L1000.0,664.4M913.4,700.0L1000.0,672.5M913.4,707.8L1000.0,680.6M913.4,715.6L1000.0,688.7M913.4,723.4L1000.0,696.8M913.4,731.2L1000.0,704.9M913.4,739.0L1000.0,713.0M913.4,746.8L1000.0,721.1M913.4,754.6L1000.0,729.3M913.4,762.5L1000.0,737.4M913.4,770.3L1000.0,745.5M913.4,778.1L1000.0,753.6M913.4,785.9L1000.0,761.7M913.4,793.7L1000.0,769.8M913.4,801.5L1000.0,777.9M913.4,809.3L1000.0,786.0M913.4,817.1L1000.0,794.1M913.4,824.9L1000.0,802.2M913.4,832.8L1000.0,810.3M913.4,840.6L1000.0,818.4M913.4,848.4L1000.0,826.5M913.4,856.2L1000.0,834.6M913.4,864.0L1000.0,842.7M913.4,871.8L1000.0,850.8M913.4,879.6L1000.0,858.9M913.4,887.4L1000.0,867.0M913.4,895.2L1000.0,875.1M913.4,903.1L1000.0,883.2M913.4,910.9L1000.0,891.3M913.4,918.7L1000.0,899.5M913.4,926.5L1000.0,907.6M913.4,934.3L1000.0,915.7M913.4,942.1L1000.0,923.8M913.4,949.9L1000.0,931.9M913.4,957.7L1000.0,940.0M913.4,965.5L1000.0,948.1M913.4,973.4L1000.0,956.2M913.4,981.2L1000.0,964.3M913.4,989.0L1000.0,972.4M913.4,996.8L1000.0,980.5M913.4,1004.6L1000.0,988.6M913.4,1012.4L1000.0,996.7M913.4,1020.2L1000.0,1004.8M913.4,1028.0L1000.0,1012.9M913.4,1035.8L1000.0,1021.0M913.4,1043.7L1000.0,1029.1M913.4,1051.5L1000.0,1037.2M913.4,1059.3L1000.0,1045.3M913.4,1067.1L1000.0,1053.4M913.4,1074.9L1000.0,1061.6M913.4,1082.7L1000.0,1069.7M913.4,1090.5L1000.0,1077.8M913.4,1098.3L1000.0,1085.9M913.4,1106.1L1000.0,1094.0M913.4,1114.0L1000.0,1102.1M913.4,1121.8L1000.0,1110.2M913.4,1129.6L1000.0,1118.3M913.4,1137.4L1000.0,1126.4M913.4,1145.2L1000.0,1134.5M913.4,1153.0L1000.0,1142.6" stroke="#55ae30" stroke-width="1.8" clip-path="url(#bpc)"/>
<polygon points="773.0,343.3 779.3,351.1 779.3,441.9 773.0,434.1" fill="#cf7428" stroke="none"/>
<path d="M773.0,345.6L779.3,353.4M773.0,350.9L779.3,358.8M773.0,356.3L779.3,364.1M773.0,361.6L779.3,369.4M773.0,366.9L779.3,374.7M773.0,372.3L779.3,380.1M773.0,377.6L779.3,385.4M773.0,382.9L779.3,390.7M773.0,388.3L779.3,396.0M773.0,393.6L779.3,401.4M773.0,398.9L779.3,406.7M773.0,404.3L779.3,412.0M773.0,409.6L779.3,417.4M773.0,414.9L779.3,422.7M773.0,420.3L779.3,428.0M773.0,425.6L779.3,433.3M773.0,430.9L779.3,438.7M773.0,436.3L779.3,444.0" stroke="#a8521a" stroke-width="1.5" stroke-linecap="butt"/>
<polygon points="779.3,358.8 813.8,401.5 813.8,446.0 779.3,403.5" fill="#a89a30" stroke="none"/>
<path d="M779.3,358.8L813.8,401.5M779.3,364.1L813.8,406.8M779.3,369.4L813.8,412.1M779.3,374.7L813.8,417.4M779.3,380.1L813.8,422.7M779.3,385.4L813.8,428.0M779.3,390.7L813.8,433.3M779.3,396.0L813.8,438.5M779.3,401.4L813.8,443.8" stroke="#7f7420" stroke-width="1.5" stroke-linecap="butt"/>
<polygon points="775.4,365.0 806.8,404.1 806.8,448.5 775.4,409.6" fill="#62d42a" stroke="none"/>
<path d="M775.4,365.0L806.8,404.1M775.4,370.3L806.8,409.4M775.4,375.6L806.8,414.7M775.4,380.9L806.8,420.0M775.4,386.2L806.8,425.3M775.4,391.6L806.8,430.6M775.4,396.9L806.8,435.8M775.4,402.2L806.8,441.1M775.4,407.5L806.8,446.4" stroke="#419f17" stroke-width="1.7" stroke-linecap="butt"/>
<polygon points="765.0,369.0 796.1,408.2 796.1,452.4 765.0,413.4" fill="#62d42a" stroke="none"/>
<path d="M765.0,369.0L796.1,408.2M765.0,374.3L796.1,413.5M765.0,379.6L796.1,418.8M765.0,384.9L796.1,424.0M765.0,390.1L796.1,429.3M765.0,395.4L796.1,434.5M765.0,400.7L796.1,439.8M765.0,406.0L796.1,445.1M765.0,411.3L796.1,450.3" stroke="#419f17" stroke-width="1.7" stroke-linecap="butt"/>
<polygon points="754.5,373.0 785.5,412.3 785.5,456.3 754.5,417.2" fill="#9aa62e" stroke="none"/>
<path d="M754.5,373.0L785.5,412.3M754.5,378.2L785.5,417.6M754.5,383.5L785.5,422.8M754.5,388.8L785.5,428.1M754.5,394.0L785.5,433.3M754.5,399.3L785.5,438.5M754.5,404.6L785.5,443.8M754.5,409.8L785.5,449.0M754.5,415.1L785.5,454.2" stroke="#74801f" stroke-width="1.5" stroke-linecap="butt"/>
<polygon points="744.0,377.0 774.8,416.5 774.8,460.2 744.0,421.0" fill="#62d42a" stroke="none"/>
<path d="M744.0,377.0L774.8,416.5M744.0,382.2L774.8,421.7M744.0,387.5L774.8,426.9M744.0,392.7L774.8,432.1M744.0,397.9L774.8,437.3M744.0,403.2L774.8,442.5M744.0,408.4L774.8,447.7M744.0,413.7L774.8,452.9M744.0,418.9L774.8,458.1" stroke="#419f17" stroke-width="1.7" stroke-linecap="butt"/>
<polygon points="731.4,370.9 767.3,417.3 767.3,679.3 731.4,634.7" fill="#68dc2c" stroke="none"/>
<path d="M731.4,370.9L767.3,417.3M731.4,376.1L767.3,422.5M731.4,381.3L767.3,427.7M731.4,386.6L767.3,432.9M731.4,391.8L767.3,438.1M731.4,397.1L767.3,443.3M731.4,402.3L767.3,448.5M731.4,407.5L767.3,453.7M731.4,412.8L767.3,458.9M731.4,418.0L767.3,464.1M731.4,423.2L767.3,469.3M731.4,428.5L767.3,474.5M731.4,433.7L767.3,479.7M731.4,438.9L767.3,484.9M731.4,444.2L767.3,490.1M731.4,449.4L767.3,495.3M731.4,454.6L767.3,500.5M731.4,459.9L767.3,505.7M731.4,465.1L767.3,510.9M731.4,470.3L767.3,516.1M731.4,475.6L767.3,521.3M731.4,480.8L767.3,526.5M731.4,486.0L767.3,531.7M731.4,491.3L767.3,536.9M731.4,496.5L767.3,542.1M731.4,501.7L767.3,547.3M731.4,507.0L767.3,552.5M731.4,512.2L767.3,557.7M731.4,517.4L767.3,562.9M731.4,522.7L767.3,568.0M731.4,527.9L767.3,573.2M731.4,533.1L767.3,578.4M731.4,538.4L767.3,583.6M731.4,543.6L767.3,588.8M731.4,548.8L767.3,594.0M731.4,554.1L767.3,599.2M731.4,559.3L767.3,604.4M731.4,564.5L767.3,609.6M731.4,569.8L767.3,614.8M731.4,575.0L767.3,620.0M731.4,580.2L767.3,625.2M731.4,585.5L767.3,630.4M731.4,590.7L767.3,635.6M731.4,595.9L767.3,640.8M731.4,601.2L767.3,646.0M731.4,606.4L767.3,651.2M731.4,611.6L767.3,656.4M731.4,616.9L767.3,661.6M731.4,622.1L767.3,666.8M731.4,627.3L767.3,672.0M731.4,632.6L767.3,677.2" stroke="#4cb41c" stroke-width="1.6" stroke-linecap="butt"/>
<polygon points="723.1,385.0 753.5,424.7 753.5,468.0 723.1,428.6" fill="#9aa62e" stroke="none"/>
<path d="M723.1,385.0L753.5,424.7M723.1,390.1L753.5,429.8M723.1,395.3L753.5,435.0M723.1,400.5L753.5,440.2M723.1,405.7L753.5,445.3M723.1,410.9L753.5,450.5M723.1,416.1L753.5,455.6M723.1,421.3L753.5,460.8M723.1,426.5L753.5,466.0" stroke="#74801f" stroke-width="1.5" stroke-linecap="butt"/>
<polygon points="705.4,369.2 711.5,377.2 711.5,465.4 705.4,457.5" fill="#cf7428" stroke="none"/>
<path d="M705.4,371.5L711.5,379.4M705.4,376.7L711.5,384.6M705.4,381.8L711.5,389.8M705.4,387.0L711.5,395.0M705.4,392.2L711.5,400.2M705.4,397.4L711.5,405.3M705.4,402.6L711.5,410.5M705.4,407.8L711.5,415.7M705.4,413.0L711.5,420.9M705.4,418.1L711.5,426.1M705.4,423.3L711.5,431.2M705.4,428.5L711.5,436.4M705.4,433.7L711.5,441.6M705.4,438.9L711.5,446.8M705.4,444.1L711.5,451.9M705.4,449.3L711.5,457.1M705.4,454.4L711.5,462.3M705.4,459.6L711.5,467.5" stroke="#a8521a" stroke-width="1.5" stroke-linecap="butt"/>
<polygon points="711.5,384.6 744.4,428.1 744.4,471.4 711.5,428.1" fill="#a89a30" stroke="none"/>
<path d="M711.5,384.6L744.4,428.1M711.5,389.8L744.4,433.3M711.5,395.0L744.4,438.4M711.5,400.2L744.4,443.6M711.5,405.3L744.4,448.7M711.5,410.5L744.4,453.9M711.5,415.7L744.4,459.0M711.5,420.9L744.4,464.1M711.5,426.1L744.4,469.3" stroke="#7f7420" stroke-width="1.5" stroke-linecap="butt"/>
<polygon points="702.2,392.9 732.2,432.9 732.2,475.9 702.2,436.2" fill="#62d42a" stroke="none"/>
<path d="M702.2,392.9L732.2,432.9M702.2,398.1L732.2,438.0M702.2,403.2L732.2,443.1M702.2,408.4L732.2,448.2M702.2,413.5L732.2,453.3M702.2,418.7L732.2,458.5M702.2,423.8L732.2,463.6M702.2,429.0L732.2,468.7M702.2,434.1L732.2,473.8" stroke="#419f17" stroke-width="1.7" stroke-linecap="butt"/>
<polygon points="691.8,396.9 721.5,437.0 721.5,479.8 691.8,440.0" fill="#9aa62e" stroke="none"/>
<path d="M691.8,396.9L721.5,437.0M691.8,402.0L721.5,442.1M691.8,407.2L721.5,447.2M691.8,412.3L721.5,452.2M691.8,417.4L721.5,457.3M691.8,422.6L721.5,462.4M691.8,427.7L721.5,467.5M691.8,432.8L721.5,472.6M691.8,437.9L721.5,477.7" stroke="#74801f" stroke-width="1.5" stroke-linecap="butt"/>
<polygon points="671.1,391.8 708.1,442.1 708.1,697.4 671.1,649.1" fill="#68dc2c" stroke="none"/>
<path d="M671.1,391.8L708.1,442.1M671.1,396.9L708.1,447.2M671.1,402.0L708.1,452.3M671.1,407.1L708.1,457.3M671.1,412.2L708.1,462.4M671.1,417.3L708.1,467.5M671.1,422.4L708.1,472.5M671.1,427.5L708.1,477.6M671.1,432.6L708.1,482.7M671.1,437.7L708.1,487.7M671.1,442.8L708.1,492.8M671.1,447.9L708.1,497.8M671.1,453.0L708.1,502.9M671.1,458.2L708.1,508.0M671.1,463.3L708.1,513.0M671.1,468.4L708.1,518.1M671.1,473.5L708.1,523.2M671.1,478.6L708.1,528.2M671.1,483.7L708.1,533.3M671.1,488.8L708.1,538.4M671.1,493.9L708.1,543.4M671.1,499.0L708.1,548.5M671.1,504.1L708.1,553.6M671.1,509.2L708.1,558.6M671.1,514.3L708.1,563.7M671.1,519.4L708.1,568.7M671.1,524.5L708.1,573.8M671.1,529.6L708.1,578.9M671.1,534.8L708.1,583.9M671.1,539.9L708.1,589.0M671.1,545.0L708.1,594.1M671.1,550.1L708.1,599.1M671.1,555.2L708.1,604.2M671.1,560.3L708.1,609.3M671.1,565.4L708.1,614.3M671.1,570.5L708.1,619.4M671.1,575.6L708.1,624.5M671.1,580.7L708.1,629.5M671.1,585.8L708.1,634.6M671.1,590.9L708.1,639.6M671.1,596.0L708.1,644.7M671.1,601.1L708.1,649.8M671.1,606.2L708.1,654.8M671.1,611.3L708.1,659.9M671.1,616.5L708.1,665.0M671.1,621.6L708.1,670.0M671.1,626.7L708.1,675.1M671.1,631.8L708.1,680.2M671.1,636.9L708.1,685.2M671.1,642.0L708.1,690.3M671.1,647.1L708.1,695.4" stroke="#4cb41c" stroke-width="1.6" stroke-linecap="butt"/>
<polygon points="670.9,404.9 700.2,445.2 700.2,487.6 670.9,447.6" fill="#62d42a" stroke="none"/>
<path d="M670.9,404.9L700.2,445.2M670.9,410.0L700.2,450.2M670.9,415.1L700.2,455.3M670.9,420.1L700.2,460.3M670.9,425.2L700.2,465.4M670.9,430.3L700.2,470.4M670.9,435.4L700.2,475.5M670.9,440.5L700.2,480.5M670.9,445.5L700.2,485.5" stroke="#419f17" stroke-width="1.7" stroke-linecap="butt"/>
<polygon points="660.4,408.9 689.5,449.3 689.5,491.5 660.4,451.4" fill="#9aa62e" stroke="none"/>
<path d="M660.4,408.9L689.5,449.3M660.4,413.9L689.5,454.3M660.4,419.0L689.5,459.3M660.4,424.1L689.5,464.3M660.4,429.1L689.5,469.4M660.4,434.2L689.5,474.4M660.4,439.2L689.5,479.4M660.4,444.3L689.5,484.4M660.4,449.4L689.5,489.5" stroke="#74801f" stroke-width="1.5" stroke-linecap="butt"/>
<polygon points="641.5,401.0 680.0,455.0 680.0,1054.8 641.5,1006.5" fill="#78ea34" stroke="none"/>
<path d="M641.5,401.0L680.0,455.0M641.5,406.0L680.0,460.0M641.5,411.1L680.0,465.0M641.5,416.1L680.0,470.0M641.5,421.2L680.0,475.0M641.5,426.2L680.0,480.0M641.5,431.3L680.0,485.0M641.5,436.3L680.0,490.0M641.5,441.4L680.0,495.0M641.5,446.4L680.0,500.0M641.5,451.5L680.0,505.0M641.5,456.5L680.0,510.0M641.5,461.6L680.0,515.0M641.5,466.6L680.0,520.0M641.5,471.6L680.0,525.0M641.5,476.7L680.0,530.0M641.5,481.7L680.0,535.0M641.5,486.8L680.0,540.0M641.5,491.8L680.0,545.0M641.5,496.9L680.0,550.0M641.5,501.9L680.0,555.0M641.5,507.0L680.0,560.0M641.5,512.0L680.0,565.0M641.5,517.1L680.0,570.0M641.5,522.1L680.0,575.0M641.5,527.1L680.0,580.0M641.5,532.2L680.0,585.0M641.5,537.2L680.0,590.0M641.5,542.3L680.0,595.0M641.5,547.3L680.0,600.0M641.5,552.4L680.0,605.0M641.5,557.4L680.0,609.9M641.5,562.5L680.0,614.9M641.5,567.5L680.0,619.9M641.5,572.6L680.0,624.9M641.5,577.6L680.0,629.9M641.5,582.6L680.0,634.9M641.5,587.7L680.0,639.9M641.5,592.7L680.0,644.9M641.5,597.8L680.0,649.9M641.5,602.8L680.0,654.9M641.5,607.9L680.0,659.9M641.5,612.9L680.0,664.9M641.5,618.0L680.0,669.9M641.5,623.0L680.0,674.9M641.5,628.1L680.0,679.9M641.5,633.1L680.0,684.9M641.5,638.2L680.0,689.9M641.5,643.2L680.0,694.9M641.5,648.2L680.0,699.9M641.5,653.3L680.0,704.9M641.5,658.3L680.0,709.9M641.5,663.4L680.0,714.9M641.5,668.4L680.0,719.9M641.5,673.5L680.0,724.9M641.5,678.5L680.0,729.9M641.5,683.6L680.0,734.9M641.5,688.6L680.0,739.9M641.5,693.7L680.0,744.9M641.5,698.7L680.0,749.9M641.5,703.8L680.0,754.9M641.5,708.8L680.0,759.9M641.5,713.8L680.0,764.9M641.5,718.9L680.0,769.9M641.5,723.9L680.0,774.9M641.5,729.0L680.0,779.9M641.5,734.0L680.0,784.9M641.5,739.1L680.0,789.9M641.5,744.1L680.0,794.9M641.5,749.2L680.0,799.9M641.5,754.2L680.0,804.9M641.5,759.3L680.0,809.9M641.5,764.3L680.0,814.9M641.5,769.3L680.0,819.9M641.5,774.4L680.0,824.9M641.5,779.4L680.0,829.9M641.5,784.5L680.0,834.9M641.5,789.5L680.0,839.9M641.5,794.6L680.0,844.9M641.5,799.6L680.0,849.9M641.5,804.7L680.0,854.9M641.5,809.7L680.0,859.9M641.5,814.8L680.0,864.9M641.5,819.8L680.0,869.9M641.5,824.8L680.0,874.9M641.5,829.9L680.0,879.9M641.5,834.9L680.0,884.9M641.5,840.0L680.0,889.9M641.5,845.0L680.0,894.9M641.5,850.1L680.0,899.9M641.5,855.1L680.0,904.8M641.5,860.2L680.0,909.8M641.5,865.2L680.0,914.8M641.5,870.3L680.0,919.8M641.5,875.3L680.0,924.8M641.5,880.4L680.0,929.8M641.5,885.4L680.0,934.8M641.5,890.4L680.0,939.8M641.5,895.5L680.0,944.8M641.5,900.5L680.0,949.8M641.5,905.6L680.0,954.8M641.5,910.6L680.0,959.8M641.5,915.7L680.0,964.8M641.5,920.7L680.0,969.8M641.5,925.8L680.0,974.8M641.5,930.8L680.0,979.8M641.5,935.9L680.0,984.8M641.5,940.9L680.0,989.8M641.5,946.0L680.0,994.8M641.5,951.0L680.0,999.8M641.5,956.0L680.0,1004.8M641.5,961.1L680.0,1009.8M641.5,966.1L680.0,1014.8M641.5,971.2L680.0,1019.8M641.5,976.2L680.0,1024.8M641.5,981.3L680.0,1029.8M641.5,986.3L680.0,1034.8M641.5,991.4L680.0,1039.8M641.5,996.4L680.0,1044.8M641.5,1001.5L680.0,1049.8M641.5,1006.5L680.0,1054.8" stroke="#50bc1c" stroke-width="1.9" stroke-linecap="butt"/>
<line x1="643.0" y1="403.0" x2="643.0" y2="1006.5" stroke="#42a014" stroke-width="3.2" stroke-dasharray="3 2" stroke-linecap="butt"/>
<polygon points="680.0,455.0 828.5,397.8 828.5,717.4 680.0,754.9" fill="#66d82c" stroke="none"/>
<path d="M680.0,455.0L828.5,397.8M680.0,460.0L828.5,403.2M680.0,465.0L828.5,408.5M680.0,470.0L828.5,413.8M680.0,475.0L828.5,419.2M680.0,480.0L828.5,424.5M680.0,485.0L828.5,429.8M680.0,490.0L828.5,435.1M680.0,495.0L828.5,440.5M680.0,500.0L828.5,445.8M680.0,505.0L828.5,451.1M680.0,510.0L828.5,456.4M680.0,515.0L828.5,461.8M680.0,520.0L828.5,467.1M680.0,525.0L828.5,472.4M680.0,530.0L828.5,477.7M680.0,535.0L828.5,483.1M680.0,540.0L828.5,488.4M680.0,545.0L828.5,493.7M680.0,550.0L828.5,499.0M680.0,555.0L828.5,504.4M680.0,560.0L828.5,509.7M680.0,565.0L828.5,515.0M680.0,570.0L828.5,520.4M680.0,575.0L828.5,525.7M680.0,580.0L828.5,531.0M680.0,585.0L828.5,536.3M680.0,590.0L828.5,541.7M680.0,595.0L828.5,547.0M680.0,600.0L828.5,552.3M680.0,605.0L828.5,557.6M680.0,609.9L828.5,563.0M680.0,614.9L828.5,568.3M680.0,619.9L828.5,573.6M680.0,624.9L828.5,578.9M680.0,629.9L828.5,584.3M680.0,634.9L828.5,589.6M680.0,639.9L828.5,594.9M680.0,644.9L828.5,600.2M680.0,649.9L828.5,605.6M680.0,654.9L828.5,610.9M680.0,659.9L828.5,616.2M680.0,664.9L828.5,621.6M680.0,669.9L828.5,626.9M680.0,674.9L828.5,632.2M680.0,679.9L828.5,637.5M680.0,684.9L828.5,642.9M680.0,689.9L828.5,648.2M680.0,694.9L828.5,653.5M680.0,699.9L828.5,658.8M680.0,704.9L828.5,664.2M680.0,709.9L828.5,669.5M680.0,714.9L828.5,674.8M680.0,719.9L828.5,680.1M680.0,724.9L828.5,685.5M680.0,729.9L828.5,690.8M680.0,734.9L828.5,696.1M680.0,739.9L828.5,701.4M680.0,744.9L828.5,706.8M680.0,749.9L828.5,712.1M680.0,754.9L828.5,717.4" stroke="#46a818" stroke-width="1.5" stroke-linecap="butt"/>
<polygon points="815.0,395.4 821.6,404.0 821.6,494.2 815.0,485.7" fill="#cf7428" stroke="none"/>
<path d="M815.0,397.7L821.6,406.3M815.0,403.0L821.6,411.6M815.0,408.3L821.6,416.9M815.0,413.6L821.6,422.2M815.0,418.9L821.6,427.5M815.0,424.2L821.6,432.8M815.0,429.5L821.6,438.1M815.0,434.8L821.6,443.4M815.0,440.1L821.6,448.6M815.0,445.4L821.6,453.9M815.0,450.7L821.6,459.2M815.0,456.0L821.6,464.5M815.0,461.3L821.6,469.8M815.0,466.6L821.6,475.1M815.0,471.9L821.6,480.4M815.0,477.2L821.6,485.7M815.0,482.5L821.6,491.0M815.0,487.8L821.6,496.3" stroke="#a8521a" stroke-width="1.5" stroke-linecap="butt"/>
<polygon points="821.6,411.6 857.6,458.4 857.6,502.7 821.6,456.1" fill="#a89a30" stroke="none"/>
<path d="M821.6,411.6L857.6,458.4M821.6,416.9L857.6,463.7M821.6,422.2L857.6,469.0M821.6,427.5L857.6,474.2M821.6,432.8L857.6,479.5M821.6,438.1L857.6,484.8M821.6,443.4L857.6,490.1M821.6,448.6L857.6,495.3M821.6,453.9L857.6,500.6" stroke="#7f7420" stroke-width="1.5" stroke-linecap="butt"/>
<polygon points="817.7,418.2 850.6,461.0 850.6,505.2 817.7,462.6" fill="#62d42a" stroke="none"/>
<path d="M817.7,418.2L850.6,461.0M817.7,423.5L850.6,466.3M817.7,428.8L850.6,471.5M817.7,434.1L850.6,476.8M817.7,439.4L850.6,482.0M817.7,444.6L850.6,487.3M817.7,449.9L850.6,492.6M817.7,455.2L850.6,497.8M817.7,460.5L850.6,503.1" stroke="#419f17" stroke-width="1.7" stroke-linecap="butt"/>
<polygon points="807.0,422.3 839.9,465.0 839.9,509.0 807.0,466.5" fill="#62d42a" stroke="none"/>
<path d="M807.0,422.3L839.9,465.0M807.0,427.6L839.9,470.2M807.0,432.8L839.9,475.5M807.0,438.1L839.9,480.7M807.0,443.3L839.9,485.9M807.0,448.6L839.9,491.2M807.0,453.8L839.9,496.4M807.0,459.1L839.9,501.7M807.0,464.4L839.9,506.9" stroke="#419f17" stroke-width="1.7" stroke-linecap="butt"/>
<polygon points="796.4,426.4 829.2,469.0 829.2,512.8 796.4,470.3" fill="#9aa62e" stroke="none"/>
<path d="M796.4,426.4L829.2,469.0M796.4,431.6L829.2,474.2M796.4,436.9L829.2,479.4M796.4,442.1L829.2,484.6M796.4,447.3L829.2,489.8M796.4,452.6L829.2,495.0M796.4,457.8L829.2,500.3M796.4,463.0L829.2,505.5M796.4,468.2L829.2,510.7" stroke="#74801f" stroke-width="1.5" stroke-linecap="butt"/>
<polygon points="785.7,430.5 818.6,472.9 818.6,516.6 785.7,474.2" fill="#62d42a" stroke="none"/>
<path d="M785.7,430.5L818.6,472.9M785.7,435.7L818.6,478.1M785.7,440.9L818.6,483.3M785.7,446.1L818.6,488.5M785.7,451.3L818.6,493.7M785.7,456.5L818.6,498.9M785.7,461.7L818.6,504.1M785.7,466.9L818.6,509.3M785.7,472.1L818.6,514.5" stroke="#419f17" stroke-width="1.7" stroke-linecap="butt"/>
<polygon points="772.4,423.8 811.0,473.6 811.0,734.7 772.4,685.7" fill="#68dc2c" stroke="none"/>
<path d="M772.4,423.8L811.0,473.6M772.4,429.0L811.0,478.8M772.4,434.2L811.0,483.9M772.4,439.4L811.0,489.1M772.4,444.6L811.0,494.3M772.4,449.8L811.0,499.5M772.4,455.0L811.0,504.7M772.4,460.2L811.0,509.8M772.4,465.4L811.0,515.0M772.4,470.6L811.0,520.2M772.4,475.8L811.0,525.4M772.4,481.0L811.0,530.6M772.4,486.2L811.0,535.8M772.4,491.4L811.0,540.9M772.4,496.6L811.0,546.1M772.4,501.8L811.0,551.3M772.4,507.0L811.0,556.5M772.4,512.2L811.0,561.7M772.4,517.4L811.0,566.8M772.4,522.6L811.0,572.0M772.4,527.7L811.0,577.2M772.4,532.9L811.0,582.4M772.4,538.1L811.0,587.6M772.4,543.3L811.0,592.8M772.4,548.5L811.0,597.9M772.4,553.7L811.0,603.1M772.4,558.9L811.0,608.3M772.4,564.1L811.0,613.5M772.4,569.3L811.0,618.7M772.4,574.5L811.0,623.9M772.4,579.7L811.0,629.0M772.4,584.9L811.0,634.2M772.4,590.1L811.0,639.4M772.4,595.3L811.0,644.6M772.4,600.5L811.0,649.8M772.4,605.7L811.0,654.9M772.4,610.9L811.0,660.1M772.4,616.1L811.0,665.3M772.4,621.3L811.0,670.5M772.4,626.5L811.0,675.7M772.4,631.7L811.0,680.9M772.4,636.9L811.0,686.0M772.4,642.1L811.0,691.2M772.4,647.2L811.0,696.4M772.4,652.4L811.0,701.6M772.4,657.6L811.0,706.8M772.4,662.8L811.0,711.9M772.4,668.0L811.0,717.1M772.4,673.2L811.0,722.3M772.4,678.4L811.0,727.5M772.4,683.6L811.0,732.7" stroke="#4cb41c" stroke-width="1.6" stroke-linecap="butt"/>
<polygon points="764.3,438.6 797.2,480.9 797.2,524.1 764.3,482.0" fill="#9aa62e" stroke="none"/>
<path d="M764.3,438.6L797.2,480.9M764.3,443.8L797.2,486.0M764.3,449.0L797.2,491.2M764.3,454.1L797.2,496.3M764.3,459.3L797.2,501.5M764.3,464.4L797.2,506.6M764.3,469.6L797.2,511.8M764.3,474.8L797.2,516.9M764.3,479.9L797.2,522.1" stroke="#74801f" stroke-width="1.5" stroke-linecap="butt"/>
<polygon points="745.7,422.3 752.2,430.8 752.2,518.4 745.7,510.0" fill="#cf7428" stroke="none"/>
<path d="M745.7,424.6L752.2,433.0M745.7,429.7L752.2,438.2M745.7,434.9L752.2,443.3M745.7,440.0L752.2,448.4M745.7,445.2L752.2,453.6M745.7,450.3L752.2,458.7M745.7,455.4L752.2,463.9M745.7,460.6L752.2,469.0M745.7,465.7L752.2,474.2M745.7,470.9L752.2,479.3M745.7,476.0L752.2,484.4M745.7,481.2L752.2,489.6M745.7,486.3L752.2,494.7M745.7,491.4L752.2,499.9M745.7,496.6L752.2,505.0M745.7,501.7L752.2,510.1M745.7,506.9L752.2,515.3M745.7,512.0L752.2,520.4" stroke="#a8521a" stroke-width="1.5" stroke-linecap="butt"/>
<polygon points="752.2,438.2 788.1,484.3 788.1,527.4 752.2,481.3" fill="#a89a30" stroke="none"/>
<path d="M752.2,438.2L788.1,484.3M752.2,443.3L788.1,489.4M752.2,448.4L788.1,494.5M752.2,453.6L788.1,499.7M752.2,458.7L788.1,504.8M752.2,463.9L788.1,509.9M752.2,469.0L788.1,515.0M752.2,474.2L788.1,520.2M752.2,479.3L788.1,525.3" stroke="#7f7420" stroke-width="1.5" stroke-linecap="butt"/>
<polygon points="743.0,446.8 775.8,488.8 775.8,531.7 743.0,489.8" fill="#62d42a" stroke="none"/>
<path d="M743.0,446.8L775.8,488.8M743.0,451.9L775.8,494.0M743.0,457.0L775.8,499.1M743.0,462.1L775.8,504.2M743.0,467.3L775.8,509.3M743.0,472.4L775.8,514.4M743.0,477.5L775.8,519.5M743.0,482.6L775.8,524.6M743.0,487.7L775.8,529.7" stroke="#419f17" stroke-width="1.7" stroke-linecap="butt"/>
<polygon points="732.3,450.9 765.1,492.8 765.1,535.5 732.3,493.6" fill="#9aa62e" stroke="none"/>
<path d="M732.3,450.9L765.1,492.8M732.3,456.0L765.1,497.9M732.3,461.1L765.1,503.0M732.3,466.1L765.1,508.1M732.3,471.2L765.1,513.2M732.3,476.3L765.1,518.2M732.3,481.4L765.1,523.3M732.3,486.5L765.1,528.4M732.3,491.6L765.1,533.5" stroke="#74801f" stroke-width="1.5" stroke-linecap="butt"/>
<polygon points="710.5,445.4 751.7,497.8 751.7,752.6 710.5,700.6" fill="#68dc2c" stroke="none"/>
<path d="M710.5,445.4L751.7,497.8M710.5,450.5L751.7,502.9M710.5,455.5L751.7,507.9M710.5,460.6L751.7,513.0M710.5,465.7L751.7,518.1M710.5,470.7L751.7,523.1M710.5,475.8L751.7,528.2M710.5,480.9L751.7,533.2M710.5,485.9L751.7,538.3M710.5,491.0L751.7,543.3M710.5,496.0L751.7,548.4M710.5,501.1L751.7,553.4M710.5,506.2L751.7,558.5M710.5,511.2L751.7,563.5M710.5,516.3L751.7,568.6M710.5,521.4L751.7,573.7M710.5,526.4L751.7,578.7M710.5,531.5L751.7,583.8M710.5,536.5L751.7,588.8M710.5,541.6L751.7,593.9M710.5,546.7L751.7,598.9M710.5,551.7L751.7,604.0M710.5,556.8L751.7,609.0M710.5,561.9L751.7,614.1M710.5,566.9L751.7,619.1M710.5,572.0L751.7,624.2M710.5,577.0L751.7,629.2M710.5,582.1L751.7,634.3M710.5,587.2L751.7,639.4M710.5,592.2L751.7,644.4M710.5,597.3L751.7,649.5M710.5,602.4L751.7,654.5M710.5,607.4L751.7,659.6M710.5,612.5L751.7,664.6M710.5,617.6L751.7,669.7M710.5,622.6L751.7,674.7M710.5,627.7L751.7,679.8M710.5,632.7L751.7,684.8M710.5,637.8L751.7,689.9M710.5,642.9L751.7,695.0M710.5,647.9L751.7,700.0M710.5,653.0L751.7,705.1M710.5,658.1L751.7,710.1M710.5,663.1L751.7,715.2M710.5,668.2L751.7,720.2M710.5,673.2L751.7,725.3M710.5,678.3L751.7,730.3M710.5,683.4L751.7,735.4M710.5,688.4L751.7,740.4M710.5,693.5L751.7,745.5M710.5,698.6L751.7,750.6" stroke="#4cb41c" stroke-width="1.6" stroke-linecap="butt"/>
<polygon points="711.0,459.0 743.8,500.8 743.8,543.1 711.0,501.4" fill="#62d42a" stroke="none"/>
<path d="M711.0,459.0L743.8,500.8M711.0,464.1L743.8,505.8M711.0,469.1L743.8,510.9M711.0,474.2L743.8,515.9M711.0,479.2L743.8,520.9M711.0,484.2L743.8,526.0M711.0,489.3L743.8,531.0M711.0,494.3L743.8,536.0M711.0,499.4L743.8,541.1" stroke="#419f17" stroke-width="1.7" stroke-linecap="butt"/>
<polygon points="700.3,463.1 733.1,504.8 733.1,546.9 700.3,505.3" fill="#9aa62e" stroke="none"/>
<path d="M700.3,463.1L733.1,504.8M700.3,468.1L733.1,509.8M700.3,473.2L733.1,514.8M700.3,478.2L733.1,519.8M700.3,483.2L733.1,524.8M700.3,488.2L733.1,529.8M700.3,493.2L733.1,534.9M700.3,498.3L733.1,539.9M700.3,503.3L733.1,544.9" stroke="#74801f" stroke-width="1.5" stroke-linecap="butt"/>
<polygon points="680.0,455.0 723.7,510.4 723.7,1109.5 680.0,1054.8" fill="#78ea34" stroke="none"/>
<path d="M680.0,455.0L723.7,510.4M680.0,460.0L723.7,515.4M680.0,465.0L723.7,520.4M680.0,470.0L723.7,525.4M680.0,475.0L723.7,530.4M680.0,480.0L723.7,535.4M680.0,485.0L723.7,540.4M680.0,490.0L723.7,545.3M680.0,495.0L723.7,550.3M680.0,500.0L723.7,555.3M680.0,505.0L723.7,560.3M680.0,510.0L723.7,565.3M680.0,515.0L723.7,570.3M680.0,520.0L723.7,575.3M680.0,525.0L723.7,580.3M680.0,530.0L723.7,585.3M680.0,535.0L723.7,590.3M680.0,540.0L723.7,595.3M680.0,545.0L723.7,600.3M680.0,550.0L723.7,605.3M680.0,555.0L723.7,610.2M680.0,560.0L723.7,615.2M680.0,565.0L723.7,620.2M680.0,570.0L723.7,625.2M680.0,575.0L723.7,630.2M680.0,580.0L723.7,635.2M680.0,585.0L723.7,640.2M680.0,590.0L723.7,645.2M680.0,595.0L723.7,650.2M680.0,600.0L723.7,655.2M680.0,605.0L723.7,660.2M680.0,609.9L723.7,665.2M680.0,614.9L723.7,670.2M680.0,619.9L723.7,675.2M680.0,624.9L723.7,680.1M680.0,629.9L723.7,685.1M680.0,634.9L723.7,690.1M680.0,639.9L723.7,695.1M680.0,644.9L723.7,700.1M680.0,649.9L723.7,705.1M680.0,654.9L723.7,710.1M680.0,659.9L723.7,715.1M680.0,664.9L723.7,720.1M680.0,669.9L723.7,725.1M680.0,674.9L723.7,730.1M680.0,679.9L723.7,735.1M680.0,684.9L723.7,740.1M680.0,689.9L723.7,745.0M680.0,694.9L723.7,750.0M680.0,699.9L723.7,755.0M680.0,704.9L723.7,760.0M680.0,709.9L723.7,765.0M680.0,714.9L723.7,770.0M680.0,719.9L723.7,775.0M680.0,724.9L723.7,780.0M680.0,729.9L723.7,785.0M680.0,734.9L723.7,790.0M680.0,739.9L723.7,795.0M680.0,744.9L723.7,800.0M680.0,749.9L723.7,805.0M680.0,754.9L723.7,810.0M680.0,759.9L723.7,814.9M680.0,764.9L723.7,819.9M680.0,769.9L723.7,824.9M680.0,774.9L723.7,829.9M680.0,779.9L723.7,834.9M680.0,784.9L723.7,839.9M680.0,789.9L723.7,844.9M680.0,794.9L723.7,849.9M680.0,799.9L723.7,854.9M680.0,804.9L723.7,859.9M680.0,809.9L723.7,864.9M680.0,814.9L723.7,869.9M680.0,819.9L723.7,874.9M680.0,824.9L723.7,879.8M680.0,829.9L723.7,884.8M680.0,834.9L723.7,889.8M680.0,839.9L723.7,894.8M680.0,844.9L723.7,899.8M680.0,849.9L723.7,904.8M680.0,854.9L723.7,909.8M680.0,859.9L723.7,914.8M680.0,864.9L723.7,919.8M680.0,869.9L723.7,924.8M680.0,874.9L723.7,929.8M680.0,879.9L723.7,934.8M680.0,884.9L723.7,939.8M680.0,889.9L723.7,944.7M680.0,894.9L723.7,949.7M680.0,899.9L723.7,954.7M680.0,904.8L723.7,959.7M680.0,909.8L723.7,964.7M680.0,914.8L723.7,969.7M680.0,919.8L723.7,974.7M680.0,924.8L723.7,979.7M680.0,929.8L723.7,984.7M680.0,934.8L723.7,989.7M680.0,939.8L723.7,994.7M680.0,944.8L723.7,999.7M680.0,949.8L723.7,1004.7M680.0,954.8L723.7,1009.7M680.0,959.8L723.7,1014.6M680.0,964.8L723.7,1019.6M680.0,969.8L723.7,1024.6M680.0,974.8L723.7,1029.6M680.0,979.8L723.7,1034.6M680.0,984.8L723.7,1039.6M680.0,989.8L723.7,1044.6M680.0,994.8L723.7,1049.6M680.0,999.8L723.7,1054.6M680.0,1004.8L723.7,1059.6M680.0,1009.8L723.7,1064.6M680.0,1014.8L723.7,1069.6M680.0,1019.8L723.7,1074.6M680.0,1024.8L723.7,1079.5M680.0,1029.8L723.7,1084.5M680.0,1034.8L723.7,1089.5M680.0,1039.8L723.7,1094.5M680.0,1044.8L723.7,1099.5M680.0,1049.8L723.7,1104.5M680.0,1054.8L723.7,1109.5" stroke="#50bc1c" stroke-width="1.9" stroke-linecap="butt"/>
<line x1="681.5" y1="457.0" x2="681.5" y2="1054.8" stroke="#42a014" stroke-width="3.2" stroke-dasharray="3 2" stroke-linecap="butt"/>
<polygon points="723.7,510.4 872.4,455.1 872.4,773.4 723.7,810.0" fill="#66d82c" stroke="none"/>
<path d="M723.7,510.4L872.4,455.1M723.7,515.4L872.4,460.4M723.7,520.4L872.4,465.7M723.7,525.4L872.4,471.0M723.7,530.4L872.4,476.3M723.7,535.4L872.4,481.6M723.7,540.4L872.4,486.9M723.7,545.3L872.4,492.2M723.7,550.3L872.4,497.5M723.7,555.3L872.4,502.8M723.7,560.3L872.4,508.1M723.7,565.3L872.4,513.5M723.7,570.3L872.4,518.8M723.7,575.3L872.4,524.1M723.7,580.3L872.4,529.4M723.7,585.3L872.4,534.7M723.7,590.3L872.4,540.0M723.7,595.3L872.4,545.3M723.7,600.3L872.4,550.6M723.7,605.3L872.4,555.9M723.7,610.2L872.4,561.2M723.7,615.2L872.4,566.5M723.7,620.2L872.4,571.8M723.7,625.2L872.4,577.1M723.7,630.2L872.4,582.4M723.7,635.2L872.4,587.7M723.7,640.2L872.4,593.0M723.7,645.2L872.4,598.3M723.7,650.2L872.4,603.6M723.7,655.2L872.4,608.9M723.7,660.2L872.4,614.2M723.7,665.2L872.4,619.5M723.7,670.2L872.4,624.8M723.7,675.2L872.4,630.2M723.7,680.1L872.4,635.5M723.7,685.1L872.4,640.8M723.7,690.1L872.4,646.1M723.7,695.1L872.4,651.4M723.7,700.1L872.4,656.7M723.7,705.1L872.4,662.0M723.7,710.1L872.4,667.3M723.7,715.1L872.4,672.6M723.7,720.1L872.4,677.9M723.7,725.1L872.4,683.2M723.7,730.1L872.4,688.5M723.7,735.1L872.4,693.8M723.7,740.1L872.4,699.1M723.7,745.0L872.4,704.4M723.7,750.0L872.4,709.7M723.7,755.0L872.4,715.0M723.7,760.0L872.4,720.3M723.7,765.0L872.4,725.6M723.7,770.0L872.4,730.9M723.7,775.0L872.4,736.2M723.7,780.0L872.4,741.5M723.7,785.0L872.4,746.9M723.7,790.0L872.4,752.2M723.7,795.0L872.4,757.5M723.7,800.0L872.4,762.8M723.7,805.0L872.4,768.1M723.7,810.0L872.4,773.4" stroke="#46a818" stroke-width="1.5" stroke-linecap="butt"/>
<polygon points="858.9,452.5 865.8,460.9 865.8,550.9 858.9,542.4" fill="#cf7428" stroke="none"/>
<path d="M858.9,454.8L865.8,463.2M858.9,460.1L865.8,468.5M858.9,465.4L865.8,473.8M858.9,470.7L865.8,479.1M858.9,475.9L865.8,484.3M858.9,481.2L865.8,489.6M858.9,486.5L865.8,494.9M858.9,491.8L865.8,500.2M858.9,497.0L865.8,505.5M858.9,502.3L865.8,510.8M858.9,507.6L865.8,516.0M858.9,512.9L865.8,521.3M858.9,518.2L865.8,526.6M858.9,523.4L865.8,531.9M858.9,528.7L865.8,537.2M858.9,534.0L865.8,542.4M858.9,539.3L865.8,547.7M858.9,544.5L865.8,553.0" stroke="#a8521a" stroke-width="1.5" stroke-linecap="butt"/>
<polygon points="865.8,468.5 903.3,514.3 903.3,558.9 865.8,512.9" fill="#a89a30" stroke="none"/>
<path d="M865.8,468.5L903.3,514.3M865.8,473.8L903.3,519.6M865.8,479.1L903.3,524.9M865.8,484.3L903.3,530.2M865.8,489.6L903.3,535.5M865.8,494.9L903.3,540.9M865.8,500.2L903.3,546.2M865.8,505.5L903.3,551.5M865.8,510.8L903.3,556.8" stroke="#7f7420" stroke-width="1.5" stroke-linecap="butt"/>
<polygon points="862.0,475.0 896.5,517.0 896.5,561.5 862.0,519.3" fill="#62d42a" stroke="none"/>
<path d="M862.0,475.0L896.5,517.0M862.0,480.3L896.5,522.3M862.0,485.6L896.5,527.6M862.0,490.8L896.5,532.9M862.0,496.1L896.5,538.2M862.0,501.4L896.5,543.5M862.0,506.6L896.5,548.8M862.0,511.9L896.5,554.1M862.0,517.2L896.5,559.4" stroke="#419f17" stroke-width="1.7" stroke-linecap="butt"/>
<polygon points="851.4,479.0 886.0,521.2 886.0,565.5 851.4,523.1" fill="#62d42a" stroke="none"/>
<path d="M851.4,479.0L886.0,521.2M851.4,484.3L886.0,526.4M851.4,489.5L886.0,531.7M851.4,494.8L886.0,537.0M851.4,500.0L886.0,542.3M851.4,505.3L886.0,547.6M851.4,510.5L886.0,552.8M851.4,515.8L886.0,558.1M851.4,521.0L886.0,563.4" stroke="#419f17" stroke-width="1.7" stroke-linecap="butt"/>
<polygon points="840.7,483.1 875.5,525.3 875.5,569.5 840.7,526.9" fill="#9aa62e" stroke="none"/>
<path d="M840.7,483.1L875.5,525.3M840.7,488.3L875.5,530.6M840.7,493.5L875.5,535.8M840.7,498.7L875.5,541.1M840.7,504.0L875.5,546.3M840.7,509.2L875.5,551.6M840.7,514.4L875.5,556.9M840.7,519.6L875.5,562.1M840.7,524.9L875.5,567.4" stroke="#74801f" stroke-width="1.5" stroke-linecap="butt"/>
<polygon points="830.1,487.1 865.0,529.5 865.0,573.4 830.1,530.8" fill="#62d42a" stroke="none"/>
<path d="M830.1,487.1L865.0,529.5M830.1,492.3L865.0,534.7M830.1,497.5L865.0,540.0M830.1,502.7L865.0,545.2M830.1,507.9L865.0,550.4M830.1,513.1L865.0,555.6M830.1,518.3L865.0,560.9M830.1,523.5L865.0,566.1M830.1,528.7L865.0,571.3" stroke="#419f17" stroke-width="1.7" stroke-linecap="butt"/>
<polygon points="816.4,480.4 857.4,530.3 857.4,793.0 816.4,741.6" fill="#68dc2c" stroke="none"/>
<path d="M816.4,480.4L857.4,530.3M816.4,485.5L857.4,535.5M816.4,490.7L857.4,540.7M816.4,495.9L857.4,545.9M816.4,501.1L857.4,551.1M816.4,506.3L857.4,556.3M816.4,511.5L857.4,561.5M816.4,516.6L857.4,566.7M816.4,521.8L857.4,572.0M816.4,527.0L857.4,577.2M816.4,532.2L857.4,582.4M816.4,537.4L857.4,587.6M816.4,542.6L857.4,592.8M816.4,547.7L857.4,598.0M816.4,552.9L857.4,603.2M816.4,558.1L857.4,608.4M816.4,563.3L857.4,613.7M816.4,568.5L857.4,618.9M816.4,573.7L857.4,624.1M816.4,578.8L857.4,629.3M816.4,584.0L857.4,634.5M816.4,589.2L857.4,639.7M816.4,594.4L857.4,644.9M816.4,599.6L857.4,650.1M816.4,604.8L857.4,655.4M816.4,609.9L857.4,660.6M816.4,615.1L857.4,665.8M816.4,620.3L857.4,671.0M816.4,625.5L857.4,676.2M816.4,630.7L857.4,681.4M816.4,635.9L857.4,686.6M816.4,641.0L857.4,691.8M816.4,646.2L857.4,697.1M816.4,651.4L857.4,702.3M816.4,656.6L857.4,707.5M816.4,661.8L857.4,712.7M816.4,667.0L857.4,717.9M816.4,672.1L857.4,723.1M816.4,677.3L857.4,728.3M816.4,682.5L857.4,733.5M816.4,687.7L857.4,738.8M816.4,692.9L857.4,744.0M816.4,698.1L857.4,749.2M816.4,703.2L857.4,754.4M816.4,708.4L857.4,759.6M816.4,713.6L857.4,764.8M816.4,718.8L857.4,770.0M816.4,724.0L857.4,775.2M816.4,729.2L857.4,780.5M816.4,734.3L857.4,785.7M816.4,739.5L857.4,790.9" stroke="#4cb41c" stroke-width="1.6" stroke-linecap="butt"/>
<polygon points="808.8,495.1 844.0,537.9 844.0,581.4 808.8,538.4" fill="#9aa62e" stroke="none"/>
<path d="M808.8,495.1L844.0,537.9M808.8,500.3L844.0,543.0M808.8,505.4L844.0,548.2M808.8,510.6L844.0,553.4M808.8,515.7L844.0,558.6M808.8,520.9L844.0,563.7M808.8,526.1L844.0,568.9M808.8,531.2L844.0,574.1M808.8,536.4L844.0,579.3" stroke="#74801f" stroke-width="1.5" stroke-linecap="butt"/>
<polygon points="789.4,478.6 796.5,487.1 796.5,574.6 789.4,566.0" fill="#cf7428" stroke="none"/>
<path d="M789.4,480.8L796.5,489.4M789.4,485.9L796.5,494.5M789.4,491.1L796.5,499.7M789.4,496.2L796.5,504.8M789.4,501.3L796.5,509.9M789.4,506.5L796.5,515.1M789.4,511.6L796.5,520.2M789.4,516.7L796.5,525.3M789.4,521.9L796.5,530.5M789.4,527.0L796.5,535.6M789.4,532.1L796.5,540.7M789.4,537.3L796.5,545.9M789.4,542.4L796.5,551.0M789.4,547.5L796.5,556.1M789.4,552.6L796.5,561.3M789.4,557.8L796.5,566.4M789.4,562.9L796.5,571.5M789.4,568.0L796.5,576.7" stroke="#a8521a" stroke-width="1.5" stroke-linecap="butt"/>
<polygon points="796.5,494.5 835.1,541.4 835.1,584.7 796.5,537.7" fill="#a89a30" stroke="none"/>
<path d="M796.5,494.5L835.1,541.4M796.5,499.7L835.1,546.5M796.5,504.8L835.1,551.7M796.5,509.9L835.1,556.9M796.5,515.1L835.1,562.0M796.5,520.2L835.1,567.2M796.5,525.3L835.1,572.3M796.5,530.5L835.1,577.5M796.5,535.6L835.1,582.7" stroke="#7f7420" stroke-width="1.5" stroke-linecap="butt"/>
<polygon points="787.5,503.2 823.0,546.2 823.0,589.3 787.5,546.1" fill="#62d42a" stroke="none"/>
<path d="M787.5,503.2L823.0,546.2M787.5,508.3L823.0,551.3M787.5,513.4L823.0,556.5M787.5,518.5L823.0,561.6M787.5,523.6L823.0,566.7M787.5,528.7L823.0,571.8M787.5,533.8L823.0,577.0M787.5,538.9L823.0,582.1M787.5,544.0L823.0,587.2" stroke="#419f17" stroke-width="1.7" stroke-linecap="butt"/>
<polygon points="776.9,507.2 812.5,550.4 812.5,593.3 776.9,549.9" fill="#9aa62e" stroke="none"/>
<path d="M776.9,507.2L812.5,550.4M776.9,512.3L812.5,555.5M776.9,517.3L812.5,560.6M776.9,522.4L812.5,565.7M776.9,527.5L812.5,570.8M776.9,532.6L812.5,575.9M776.9,537.7L812.5,581.0M776.9,542.8L812.5,586.1M776.9,547.9L812.5,591.2" stroke="#74801f" stroke-width="1.5" stroke-linecap="butt"/>
<polygon points="754.4,501.2 799.3,555.6 799.3,811.4 754.4,756.0" fill="#68dc2c" stroke="none"/>
<path d="M754.4,501.2L799.3,555.6M754.4,506.3L799.3,560.7M754.4,511.4L799.3,565.8M754.4,516.4L799.3,570.9M754.4,521.5L799.3,575.9M754.4,526.5L799.3,581.0M754.4,531.6L799.3,586.1M754.4,536.6L799.3,591.2M754.4,541.7L799.3,596.2M754.4,546.7L799.3,601.3M754.4,551.8L799.3,606.4M754.4,556.8L799.3,611.5M754.4,561.9L799.3,616.5M754.4,567.0L799.3,621.6M754.4,572.0L799.3,626.7M754.4,577.1L799.3,631.8M754.4,582.1L799.3,636.8M754.4,587.2L799.3,641.9M754.4,592.2L799.3,647.0M754.4,597.3L799.3,652.1M754.4,602.3L799.3,657.1M754.4,607.4L799.3,662.2M754.4,612.5L799.3,667.3M754.4,617.5L799.3,672.4M754.4,622.6L799.3,677.4M754.4,627.6L799.3,682.5M754.4,632.7L799.3,687.6M754.4,637.7L799.3,692.7M754.4,642.8L799.3,697.7M754.4,647.8L799.3,702.8M754.4,652.9L799.3,707.9M754.4,657.9L799.3,713.0M754.4,663.0L799.3,718.1M754.4,668.1L799.3,723.1M754.4,673.1L799.3,728.2M754.4,678.2L799.3,733.3M754.4,683.2L799.3,738.4M754.4,688.3L799.3,743.4M754.4,693.3L799.3,748.5M754.4,698.4L799.3,753.6M754.4,703.4L799.3,758.7M754.4,708.5L799.3,763.7M754.4,713.5L799.3,768.8M754.4,718.6L799.3,773.9M754.4,723.7L799.3,779.0M754.4,728.7L799.3,784.0M754.4,733.8L799.3,789.1M754.4,738.8L799.3,794.2M754.4,743.9L799.3,799.3M754.4,748.9L799.3,804.3M754.4,754.0L799.3,809.4" stroke="#4cb41c" stroke-width="1.6" stroke-linecap="butt"/>
<polygon points="755.6,515.2 791.5,558.7 791.5,601.2 755.6,557.6" fill="#62d42a" stroke="none"/>
<path d="M755.6,515.2L791.5,558.7M755.6,520.3L791.5,563.8M755.6,525.3L791.5,568.8M755.6,530.3L791.5,573.9M755.6,535.4L791.5,578.9M755.6,540.4L791.5,584.0M755.6,545.5L791.5,589.1M755.6,550.5L791.5,594.1M755.6,555.5L791.5,599.2" stroke="#419f17" stroke-width="1.7" stroke-linecap="butt"/>
<polygon points="745.0,519.2 781.0,562.9 781.0,605.2 745.0,561.4" fill="#9aa62e" stroke="none"/>
<path d="M745.0,519.2L781.0,562.9M745.0,524.2L781.0,567.9M745.0,529.3L781.0,572.9M745.0,534.3L781.0,578.0M745.0,539.3L781.0,583.0M745.0,544.3L781.0,588.0M745.0,549.3L781.0,593.1M745.0,554.4L781.0,598.1M745.0,559.4L781.0,603.1" stroke="#74801f" stroke-width="1.5" stroke-linecap="butt"/>
<polygon points="723.7,510.4 772.0,568.8 772.0,1170.0 723.7,1109.5" fill="#78ea34" stroke="none"/>
<path d="M723.7,510.4L772.0,568.8M723.7,515.4L772.0,573.8M723.7,520.4L772.0,578.8M723.7,525.4L772.0,583.8M723.7,530.4L772.0,588.8M723.7,535.4L772.0,593.8M723.7,540.4L772.0,598.9M723.7,545.3L772.0,603.9M723.7,550.3L772.0,608.9M723.7,555.3L772.0,613.9M723.7,560.3L772.0,618.9M723.7,565.3L772.0,623.9M723.7,570.3L772.0,628.9M723.7,575.3L772.0,633.9M723.7,580.3L772.0,638.9M723.7,585.3L772.0,643.9M723.7,590.3L772.0,649.0M723.7,595.3L772.0,654.0M723.7,600.3L772.0,659.0M723.7,605.3L772.0,664.0M723.7,610.2L772.0,669.0M723.7,615.2L772.0,674.0M723.7,620.2L772.0,679.0M723.7,625.2L772.0,684.0M723.7,630.2L772.0,689.0M723.7,635.2L772.0,694.0M723.7,640.2L772.0,699.1M723.7,645.2L772.0,704.1M723.7,650.2L772.0,709.1M723.7,655.2L772.0,714.1M723.7,660.2L772.0,719.1M723.7,665.2L772.0,724.1M723.7,670.2L772.0,729.1M723.7,675.2L772.0,734.1M723.7,680.1L772.0,739.1M723.7,685.1L772.0,744.1M723.7,690.1L772.0,749.2M723.7,695.1L772.0,754.2M723.7,700.1L772.0,759.2M723.7,705.1L772.0,764.2M723.7,710.1L772.0,769.2M723.7,715.1L772.0,774.2M723.7,720.1L772.0,779.2M723.7,725.1L772.0,784.2M723.7,730.1L772.0,789.2M723.7,735.1L772.0,794.2M723.7,740.1L772.0,799.3M723.7,745.0L772.0,804.3M723.7,750.0L772.0,809.3M723.7,755.0L772.0,814.3M723.7,760.0L772.0,819.3M723.7,765.0L772.0,824.3M723.7,770.0L772.0,829.3M723.7,775.0L772.0,834.3M723.7,780.0L772.0,839.3M723.7,785.0L772.0,844.3M723.7,790.0L772.0,849.4M723.7,795.0L772.0,854.4M723.7,800.0L772.0,859.4M723.7,805.0L772.0,864.4M723.7,810.0L772.0,869.4M723.7,814.9L772.0,874.4M723.7,819.9L772.0,879.4M723.7,824.9L772.0,884.4M723.7,829.9L772.0,889.4M723.7,834.9L772.0,894.4M723.7,839.9L772.0,899.5M723.7,844.9L772.0,904.5M723.7,849.9L772.0,909.5M723.7,854.9L772.0,914.5M723.7,859.9L772.0,919.5M723.7,864.9L772.0,924.5M723.7,869.9L772.0,929.5M723.7,874.9L772.0,934.5M723.7,879.8L772.0,939.5M723.7,884.8L772.0,944.5M723.7,889.8L772.0,949.6M723.7,894.8L772.0,954.6M723.7,899.8L772.0,959.6M723.7,904.8L772.0,964.6M723.7,909.8L772.0,969.6M723.7,914.8L772.0,974.6M723.7,919.8L772.0,979.6M723.7,924.8L772.0,984.6M723.7,929.8L772.0,989.6M723.7,934.8L772.0,994.7M723.7,939.8L772.0,999.7M723.7,944.7L772.0,1004.7M723.7,949.7L772.0,1009.7M723.7,954.7L772.0,1014.7M723.7,959.7L772.0,1019.7M723.7,964.7L772.0,1024.7M723.7,969.7L772.0,1029.7M723.7,974.7L772.0,1034.7M723.7,979.7L772.0,1039.7M723.7,984.7L772.0,1044.8M723.7,989.7L772.0,1049.8M723.7,994.7L772.0,1054.8M723.7,999.7L772.0,1059.8M723.7,1004.7L772.0,1064.8M723.7,1009.7L772.0,1069.8M723.7,1014.6L772.0,1074.8M723.7,1019.6L772.0,1079.8M723.7,1024.6L772.0,1084.8M723.7,1029.6L772.0,1089.8M723.7,1034.6L772.0,1094.8M723.7,1039.6L772.0,1099.9M723.7,1044.6L772.0,1104.9M723.7,1049.6L772.0,1109.9M723.7,1054.6L772.0,1114.9M723.7,1059.6L772.0,1119.9M723.7,1064.6L772.0,1124.9M723.7,1069.6L772.0,1129.9M723.7,1074.6L772.0,1134.9M723.7,1079.5L772.0,1139.9M723.7,1084.5L772.0,1145.0M723.7,1089.5L772.0,1150.0M723.7,1094.5L772.0,1155.0M723.7,1099.5L772.0,1160.0M723.7,1104.5L772.0,1165.0M723.7,1109.5L772.0,1170.0" stroke="#50bc1c" stroke-width="1.9" stroke-linecap="butt"/>
<line x1="725.2" y1="512.4" x2="725.2" y2="1109.5" stroke="#42a014" stroke-width="3.2" stroke-dasharray="3 2" stroke-linecap="butt"/>
<polygon points="772.0,568.8 917.9,510.7 917.9,831.6 772.0,869.4" fill="#66d82c" stroke="none"/>
<path d="M772.0,568.8L917.9,510.7M772.0,573.8L917.9,516.0M772.0,578.8L917.9,521.4M772.0,583.8L917.9,526.7M772.0,588.8L917.9,532.1M772.0,593.8L917.9,537.4M772.0,598.9L917.9,542.8M772.0,603.9L917.9,548.1M772.0,608.9L917.9,553.5M772.0,613.9L917.9,558.8M772.0,618.9L917.9,564.2M772.0,623.9L917.9,569.5M772.0,628.9L917.9,574.9M772.0,633.9L917.9,580.2M772.0,638.9L917.9,585.6M772.0,643.9L917.9,590.9M772.0,649.0L917.9,596.3M772.0,654.0L917.9,601.6M772.0,659.0L917.9,607.0M772.0,664.0L917.9,612.3M772.0,669.0L917.9,617.7M772.0,674.0L917.9,623.0M772.0,679.0L917.9,628.3M772.0,684.0L917.9,633.7M772.0,689.0L917.9,639.0M772.0,694.0L917.9,644.4M772.0,699.1L917.9,649.7M772.0,704.1L917.9,655.1M772.0,709.1L917.9,660.4M772.0,714.1L917.9,665.8M772.0,719.1L917.9,671.1M772.0,724.1L917.9,676.5M772.0,729.1L917.9,681.8M772.0,734.1L917.9,687.2M772.0,739.1L917.9,692.5M772.0,744.1L917.9,697.9M772.0,749.2L917.9,703.2M772.0,754.2L917.9,708.6M772.0,759.2L917.9,713.9M772.0,764.2L917.9,719.3M772.0,769.2L917.9,724.6M772.0,774.2L917.9,730.0M772.0,779.2L917.9,735.3M772.0,784.2L917.9,740.7M772.0,789.2L917.9,746.0M772.0,794.2L917.9,751.4M772.0,799.3L917.9,756.7M772.0,804.3L917.9,762.1M772.0,809.3L917.9,767.4M772.0,814.3L917.9,772.7M772.0,819.3L917.9,778.1M772.0,824.3L917.9,783.4M772.0,829.3L917.9,788.8M772.0,834.3L917.9,794.1M772.0,839.3L917.9,799.5M772.0,844.3L917.9,804.8M772.0,849.4L917.9,810.2M772.0,854.4L917.9,815.5M772.0,859.4L917.9,820.9M772.0,864.4L917.9,826.2M772.0,869.4L917.9,831.6" stroke="#46a818" stroke-width="1.5" stroke-linecap="butt"/>
<polygon points="904.7,508.3 911.5,516.6 911.5,607.2 904.7,598.9" fill="#cf7428" stroke="none"/>
<path d="M904.7,510.6L911.5,518.9M904.7,516.0L911.5,524.2M904.7,521.3L911.5,529.6M904.7,526.6L911.5,534.9M904.7,531.9L911.5,540.2M904.7,537.2L911.5,545.5M904.7,542.5L911.5,550.8M904.7,547.9L911.5,556.1M904.7,553.2L911.5,561.5M904.7,558.5L911.5,566.8M904.7,563.8L911.5,572.1M904.7,569.1L911.5,577.4M904.7,574.4L911.5,582.7M904.7,579.8L911.5,588.0M904.7,585.1L911.5,593.4M904.7,590.4L911.5,598.7M904.7,595.7L911.5,604.0M904.7,601.0L911.5,609.3" stroke="#a8521a" stroke-width="1.5" stroke-linecap="butt"/>
<polygon points="911.5,524.2 949.0,569.5 949.0,614.2 911.5,568.9" fill="#a89a30" stroke="none"/>
<path d="M911.5,524.2L949.0,569.5M911.5,529.6L949.0,574.8M911.5,534.9L949.0,580.1M911.5,540.2L949.0,585.5M911.5,545.5L949.0,590.8M911.5,550.8L949.0,596.1M911.5,556.1L949.0,601.4M911.5,561.5L949.0,606.7M911.5,566.8L949.0,612.0" stroke="#7f7420" stroke-width="1.5" stroke-linecap="butt"/>
<polygon points="907.9,530.8 942.3,572.1 942.3,616.6 907.9,575.3" fill="#62d42a" stroke="none"/>
<path d="M907.9,530.8L942.3,572.1M907.9,536.1L942.3,577.4M907.9,541.4L942.3,582.7M907.9,546.7L942.3,588.0M907.9,552.0L942.3,593.3M907.9,557.3L942.3,598.6M907.9,562.6L942.3,603.9M907.9,567.9L942.3,609.2M907.9,573.2L942.3,614.5" stroke="#419f17" stroke-width="1.7" stroke-linecap="butt"/>
<polygon points="897.5,534.9 932.0,576.1 932.0,620.4 897.5,579.3" fill="#62d42a" stroke="none"/>
<path d="M897.5,534.9L932.0,576.1M897.5,540.2L932.0,581.4M897.5,545.5L932.0,586.6M897.5,550.8L932.0,591.9M897.5,556.0L932.0,597.2M897.5,561.3L932.0,602.5M897.5,566.6L932.0,607.8M897.5,571.9L932.0,613.0M897.5,577.2L932.0,618.3" stroke="#419f17" stroke-width="1.7" stroke-linecap="butt"/>
<polygon points="887.0,539.1 921.7,580.1 921.7,624.2 887.0,583.2" fill="#9aa62e" stroke="none"/>
<path d="M887.0,539.1L921.7,580.1M887.0,544.3L921.7,585.3M887.0,549.6L921.7,590.6M887.0,554.8L921.7,595.8M887.0,560.1L921.7,601.1M887.0,565.3L921.7,606.4M887.0,570.6L921.7,611.6M887.0,575.8L921.7,616.9M887.0,581.1L921.7,622.1" stroke="#74801f" stroke-width="1.5" stroke-linecap="butt"/>
<polygon points="876.6,543.2 911.3,584.1 911.3,628.0 876.6,587.1" fill="#62d42a" stroke="none"/>
<path d="M876.6,543.2L911.3,584.1M876.6,548.4L911.3,589.3M876.6,553.7L911.3,594.5M876.6,558.9L911.3,599.8M876.6,564.1L911.3,605.0M876.6,569.3L911.3,610.2M876.6,574.6L911.3,615.5M876.6,579.8L911.3,620.7M876.6,585.0L911.3,625.9" stroke="#419f17" stroke-width="1.7" stroke-linecap="butt"/>
<polygon points="863.0,536.9 903.9,584.8 903.9,848.0 863.0,799.8" fill="#68dc2c" stroke="none"/>
<path d="M863.0,536.9L903.9,584.8M863.0,542.1L903.9,590.0M863.0,547.4L903.9,595.2M863.0,552.6L903.9,600.4M863.0,557.8L903.9,605.7M863.0,563.0L903.9,610.9M863.0,568.2L903.9,616.1M863.0,573.4L903.9,621.3M863.0,578.6L903.9,626.5M863.0,583.9L903.9,631.8M863.0,589.1L903.9,637.0M863.0,594.3L903.9,642.2M863.0,599.5L903.9,647.4M863.0,604.7L903.9,652.7M863.0,609.9L903.9,657.9M863.0,615.1L903.9,663.1M863.0,620.4L903.9,668.3M863.0,625.6L903.9,673.5M863.0,630.8L903.9,678.8M863.0,636.0L903.9,684.0M863.0,641.2L903.9,689.2M863.0,646.4L903.9,694.4M863.0,651.7L903.9,699.7M863.0,656.9L903.9,704.9M863.0,662.1L903.9,710.1M863.0,667.3L903.9,715.3M863.0,672.5L903.9,720.5M863.0,677.7L903.9,725.8M863.0,682.9L903.9,731.0M863.0,688.2L903.9,736.2M863.0,693.4L903.9,741.4M863.0,698.6L903.9,746.7M863.0,703.8L903.9,751.9M863.0,709.0L903.9,757.1M863.0,714.2L903.9,762.3M863.0,719.4L903.9,767.5M863.0,724.7L903.9,772.8M863.0,729.9L903.9,778.0M863.0,735.1L903.9,783.2M863.0,740.3L903.9,788.4M863.0,745.5L903.9,793.7M863.0,750.7L903.9,798.9M863.0,756.0L903.9,804.1M863.0,761.2L903.9,809.3M863.0,766.4L903.9,814.5M863.0,771.6L903.9,819.8M863.0,776.8L903.9,825.0M863.0,782.0L903.9,830.2M863.0,787.2L903.9,835.4M863.0,792.5L903.9,840.7M863.0,797.7L903.9,845.9" stroke="#4cb41c" stroke-width="1.6" stroke-linecap="butt"/>
<polygon points="855.7,551.5 890.7,592.0 890.7,635.6 855.7,595.0" fill="#9aa62e" stroke="none"/>
<path d="M855.7,551.5L890.7,592.0M855.7,556.6L890.7,597.2M855.7,561.8L890.7,602.4M855.7,567.0L890.7,607.6M855.7,572.2L890.7,612.8M855.7,577.4L890.7,618.0M855.7,582.6L890.7,623.2M855.7,587.7L890.7,628.4M855.7,592.9L890.7,633.6" stroke="#74801f" stroke-width="1.5" stroke-linecap="butt"/>
<polygon points="836.5,535.7 843.6,543.8 843.6,631.7 836.5,623.6" fill="#cf7428" stroke="none"/>
<path d="M836.5,537.9L843.6,546.0M836.5,543.1L843.6,551.2M836.5,548.3L843.6,556.4M836.5,553.4L843.6,561.5M836.5,558.6L843.6,566.7M836.5,563.7L843.6,571.8M836.5,568.9L843.6,577.0M836.5,574.1L843.6,582.2M836.5,579.2L843.6,587.3M836.5,584.4L843.6,592.5M836.5,589.5L843.6,597.6M836.5,594.7L843.6,602.8M836.5,599.9L843.6,608.0M836.5,605.0L843.6,613.1M836.5,610.2L843.6,618.3M836.5,615.3L843.6,623.5M836.5,620.5L843.6,628.6M836.5,625.7L843.6,633.8" stroke="#a8521a" stroke-width="1.5" stroke-linecap="butt"/>
<polygon points="843.6,551.2 882.0,595.4 882.0,638.9 843.6,594.5" fill="#a89a30" stroke="none"/>
<path d="M843.6,551.2L882.0,595.4M843.6,556.4L882.0,600.6M843.6,561.5L882.0,605.7M843.6,566.7L882.0,610.9M843.6,571.8L882.0,616.1M843.6,577.0L882.0,621.3M843.6,582.2L882.0,626.4M843.6,587.3L882.0,631.6M843.6,592.5L882.0,636.8" stroke="#7f7420" stroke-width="1.5" stroke-linecap="butt"/>
<polygon points="834.8,559.7 870.1,600.0 870.1,643.2 834.8,602.9" fill="#62d42a" stroke="none"/>
<path d="M834.8,559.7L870.1,600.0M834.8,564.9L870.1,605.1M834.8,570.0L870.1,610.3M834.8,575.1L870.1,615.4M834.8,580.3L870.1,620.6M834.8,585.4L870.1,625.7M834.8,590.5L870.1,630.9M834.8,595.7L870.1,636.0M834.8,600.8L870.1,641.2" stroke="#419f17" stroke-width="1.7" stroke-linecap="butt"/>
<polygon points="824.4,563.9 859.8,604.0 859.8,647.0 824.4,606.8" fill="#9aa62e" stroke="none"/>
<path d="M824.4,563.9L859.8,604.0M824.4,569.0L859.8,609.1M824.4,574.1L859.8,614.2M824.4,579.2L859.8,619.4M824.4,584.3L859.8,624.5M824.4,589.4L859.8,629.6M824.4,594.5L859.8,634.7M824.4,599.6L859.8,639.9M824.4,604.8L859.8,645.0" stroke="#74801f" stroke-width="1.5" stroke-linecap="butt"/>
<polygon points="802.2,559.0 846.8,609.0 846.8,865.9 802.2,814.8" fill="#68dc2c" stroke="none"/>
<path d="M802.2,559.0L846.8,609.0M802.2,564.0L846.8,614.1M802.2,569.1L846.8,619.2M802.2,574.2L846.8,624.3M802.2,579.3L846.8,629.4M802.2,584.3L846.8,634.5M802.2,589.4L846.8,639.6M802.2,594.5L846.8,644.7M802.2,599.6L846.8,649.8M802.2,604.7L846.8,654.9M802.2,609.7L846.8,660.0M802.2,614.8L846.8,665.1M802.2,619.9L846.8,670.2M802.2,625.0L846.8,675.3M802.2,630.0L846.8,680.4M802.2,635.1L846.8,685.5M802.2,640.2L846.8,690.6M802.2,645.3L846.8,695.7M802.2,650.3L846.8,700.8M802.2,655.4L846.8,705.9M802.2,660.5L846.8,710.9M802.2,665.6L846.8,716.0M802.2,670.7L846.8,721.1M802.2,675.7L846.8,726.2M802.2,680.8L846.8,731.3M802.2,685.9L846.8,736.4M802.2,691.0L846.8,741.5M802.2,696.0L846.8,746.6M802.2,701.1L846.8,751.7M802.2,706.2L846.8,756.8M802.2,711.3L846.8,761.9M802.2,716.3L846.8,767.0M802.2,721.4L846.8,772.1M802.2,726.5L846.8,777.2M802.2,731.6L846.8,782.3M802.2,736.7L846.8,787.4M802.2,741.7L846.8,792.5M802.2,746.8L846.8,797.6M802.2,751.9L846.8,802.7M802.2,757.0L846.8,807.8M802.2,762.0L846.8,812.9M802.2,767.1L846.8,818.0M802.2,772.2L846.8,823.1M802.2,777.3L846.8,828.2M802.2,782.4L846.8,833.3M802.2,787.4L846.8,838.4M802.2,792.5L846.8,843.5M802.2,797.6L846.8,848.6M802.2,802.7L846.8,853.7M802.2,807.7L846.8,858.8M802.2,812.8L846.8,863.9" stroke="#4cb41c" stroke-width="1.6" stroke-linecap="butt"/>
<polygon points="803.5,572.1 839.2,611.9 839.2,654.6 803.5,614.7" fill="#62d42a" stroke="none"/>
<path d="M803.5,572.1L839.2,611.9M803.5,577.2L839.2,617.0M803.5,582.3L839.2,622.1M803.5,587.3L839.2,627.2M803.5,592.4L839.2,632.3M803.5,597.4L839.2,637.4M803.5,602.5L839.2,642.4M803.5,607.6L839.2,647.5M803.5,612.6L839.2,652.6" stroke="#419f17" stroke-width="1.7" stroke-linecap="butt"/>
<polygon points="793.0,576.3 828.9,615.9 828.9,658.4 793.0,618.6" fill="#9aa62e" stroke="none"/>
<path d="M793.0,576.3L828.9,615.9M793.0,581.3L828.9,621.0M793.0,586.3L828.9,626.1M793.0,591.4L828.9,631.1M793.0,596.4L828.9,636.2M793.0,601.5L828.9,641.2M793.0,606.5L828.9,646.3M793.0,611.5L828.9,651.3M793.0,616.6L828.9,656.4" stroke="#74801f" stroke-width="1.5" stroke-linecap="butt"/>
<polygon points="772.0,568.8 820.0,621.5 820.0,1226.0 772.0,1170.0" fill="#78ea34" stroke="none"/>
<path d="M772.0,568.8L809.4,609.9Q820.0,621.5 833.4,616.3M772.0,573.8L809.4,614.9Q820.0,626.5 833.4,621.4M772.0,578.8L809.4,620.0Q820.0,631.6 833.4,626.4M772.0,583.8L809.4,625.0Q820.0,636.6 833.4,631.5M772.0,588.8L809.4,630.0Q820.0,641.6 833.4,636.6M772.0,593.8L809.4,635.1Q820.0,646.7 833.4,641.6M772.0,598.9L809.4,640.1Q820.0,651.7 833.4,646.7M772.0,603.9L809.4,645.1Q820.0,656.8 833.4,651.8M772.0,608.9L809.4,650.2Q820.0,661.8 833.4,656.8M772.0,613.9L809.4,655.2Q820.0,666.8 833.4,661.9M772.0,618.9L809.4,660.2Q820.0,671.9 833.4,667.0M772.0,623.9L809.4,665.3Q820.0,676.9 833.4,672.0M772.0,628.9L809.4,670.3Q820.0,682.0 833.4,677.1M772.0,633.9L809.4,675.3Q820.0,687.0 833.4,682.2M772.0,638.9L809.4,680.3Q820.0,692.0 833.4,687.2M772.0,643.9L809.4,685.4Q820.0,697.1 833.4,692.3M772.0,649.0L809.4,690.4Q820.0,702.1 833.4,697.4M772.0,654.0L809.4,695.4Q820.0,707.1 833.4,702.4M772.0,659.0L809.4,700.5Q820.0,712.2 833.4,707.5M772.0,664.0L809.4,705.5Q820.0,717.2 833.4,712.6M772.0,669.0L809.4,710.5Q820.0,722.2 833.4,717.6M772.0,674.0L809.4,715.6Q820.0,727.3 833.4,722.7M772.0,679.0L809.4,720.6Q820.0,732.3 833.4,727.8M772.0,684.0L809.4,725.6Q820.0,737.4 833.4,732.8M772.0,689.0L809.4,730.7Q820.0,742.4 833.4,737.9M772.0,694.0L809.4,735.7Q820.0,747.4 833.4,743.0M772.0,699.1L809.4,740.7Q820.0,752.5 833.4,748.0M772.0,704.1L809.4,745.8Q820.0,757.5 833.4,753.1M772.0,709.1L809.4,750.8Q820.0,762.5 833.4,758.2M772.0,714.1L809.4,755.8Q820.0,767.6 833.4,763.2M772.0,719.1L809.4,760.8Q820.0,772.6 833.4,768.3M772.0,724.1L809.4,765.9Q820.0,777.7 833.4,773.4M772.0,729.1L809.4,770.9Q820.0,782.7 833.4,778.4M772.0,734.1L809.4,775.9Q820.0,787.7 833.4,783.5M772.0,739.1L809.4,781.0Q820.0,792.8 833.4,788.6M772.0,744.1L809.4,786.0Q820.0,797.8 833.4,793.6M772.0,749.2L809.4,791.0Q820.0,802.9 833.4,798.7M772.0,754.2L809.4,796.1Q820.0,807.9 833.4,803.8M772.0,759.2L809.4,801.1Q820.0,812.9 833.4,808.8M772.0,764.2L809.4,806.1Q820.0,818.0 833.4,813.9M772.0,769.2L809.4,811.2Q820.0,823.0 833.4,819.0M772.0,774.2L809.4,816.2Q820.0,828.0 833.4,824.0M772.0,779.2L809.4,821.2Q820.0,833.1 833.4,829.1M772.0,784.2L809.4,826.3Q820.0,838.1 833.4,834.2M772.0,789.2L809.4,831.3Q820.0,843.1 833.4,839.2M772.0,794.2L809.4,836.3Q820.0,848.2 833.4,844.3M772.0,799.3L809.4,841.4Q820.0,853.2 833.4,849.4M772.0,804.3L809.4,846.4Q820.0,858.3 833.4,854.4M772.0,809.3L809.4,851.4Q820.0,863.3 833.4,859.5M772.0,814.3L809.4,856.4Q820.0,868.3 833.4,864.6M772.0,819.3L809.4,861.5Q820.0,873.4 833.4,869.6M772.0,824.3L809.4,866.5Q820.0,878.4 833.4,874.7M772.0,829.3L809.4,871.5Q820.0,883.5 833.4,879.8M772.0,834.3L809.4,876.6Q820.0,888.5 833.4,884.8M772.0,839.3L809.4,881.6Q820.0,893.5 833.4,889.9M772.0,844.3L809.4,886.6Q820.0,898.6 833.4,895.0M772.0,849.4L809.4,891.7Q820.0,903.6 833.4,900.0M772.0,854.4L809.4,896.7Q820.0,908.6 833.4,905.1M772.0,859.4L809.4,901.7Q820.0,913.7 833.4,910.2M772.0,864.4L809.4,906.8Q820.0,918.7 833.4,915.2M772.0,869.4L809.4,911.8Q820.0,923.8 833.4,920.3M772.0,874.4L809.4,916.8Q820.0,928.8 833.4,925.4M772.0,879.4L809.4,921.9Q820.0,933.8 833.4,930.4M772.0,884.4L809.4,926.9Q820.0,938.9 833.4,935.5M772.0,889.4L809.4,931.9Q820.0,943.9 833.4,940.5M772.0,894.4L809.4,937.0Q820.0,948.9 833.4,945.6M772.0,899.5L809.4,942.0Q820.0,954.0 833.4,950.7M772.0,904.5L809.4,947.0Q820.0,959.0 833.4,955.7M772.0,909.5L809.4,952.0Q820.0,964.0 833.4,960.8M772.0,914.5L809.4,957.1Q820.0,969.1 833.4,965.9M772.0,919.5L809.4,962.1Q820.0,974.1 833.4,970.9M772.0,924.5L809.4,967.1Q820.0,979.2 833.4,976.0M772.0,929.5L809.4,972.2Q820.0,984.2 833.4,981.1M772.0,934.5L809.4,977.2Q820.0,989.2 833.4,986.1M772.0,939.5L809.4,982.2Q820.0,994.3 833.4,991.2M772.0,944.5L809.4,987.3Q820.0,999.3 833.4,996.3M772.0,949.6L809.4,992.3Q820.0,1004.3 833.4,1001.3M772.0,954.6L809.4,997.3Q820.0,1009.4 833.4,1006.4M772.0,959.6L809.4,1002.4Q820.0,1014.4 833.4,1011.5M772.0,964.6L809.4,1007.4Q820.0,1019.5 833.4,1016.5M772.0,969.6L809.4,1012.4Q820.0,1024.5 833.4,1021.6M772.0,974.6L809.4,1017.5Q820.0,1029.5 833.4,1026.7M772.0,979.6L809.4,1022.5Q820.0,1034.6 833.4,1031.7M772.0,984.6L809.4,1027.5Q820.0,1039.6 833.4,1036.8M772.0,989.6L809.4,1032.5Q820.0,1044.7 833.4,1041.9M772.0,994.7L809.4,1037.6Q820.0,1049.7 833.4,1046.9M772.0,999.7L809.4,1042.6Q820.0,1054.7 833.4,1052.0M772.0,1004.7L809.4,1047.6Q820.0,1059.8 833.4,1057.1M772.0,1009.7L809.4,1052.7Q820.0,1064.8 833.4,1062.1M772.0,1014.7L809.4,1057.7Q820.0,1069.8 833.4,1067.2M772.0,1019.7L809.4,1062.7Q820.0,1074.9 833.4,1072.3M772.0,1024.7L809.4,1067.8Q820.0,1079.9 833.4,1077.3M772.0,1029.7L809.4,1072.8Q820.0,1085.0 833.4,1082.4M772.0,1034.7L809.4,1077.8Q820.0,1090.0 833.4,1087.5M772.0,1039.7L809.4,1082.9Q820.0,1095.0 833.4,1092.5M772.0,1044.8L809.4,1087.9Q820.0,1100.1 833.4,1097.6M772.0,1049.8L809.4,1092.9Q820.0,1105.1 833.4,1102.7M772.0,1054.8L809.4,1098.0Q820.0,1110.1 833.4,1107.7M772.0,1059.8L809.4,1103.0Q820.0,1115.2 833.4,1112.8M772.0,1064.8L809.4,1108.0Q820.0,1120.2 833.4,1117.9M772.0,1069.8L809.4,1113.1Q820.0,1125.2 833.4,1122.9M772.0,1074.8L809.4,1118.1Q820.0,1130.3 833.4,1128.0M772.0,1079.8L809.4,1123.1Q820.0,1135.3 833.4,1133.1M772.0,1084.8L809.4,1128.1Q820.0,1140.4 833.4,1138.1M772.0,1089.8L809.4,1133.2Q820.0,1145.4 833.4,1143.2M772.0,1094.8L809.4,1138.2Q820.0,1150.4 833.4,1148.3M772.0,1099.9L809.4,1143.2Q820.0,1155.5 833.4,1153.3M772.0,1104.9L809.4,1148.3Q820.0,1160.5 833.4,1158.4M772.0,1109.9L809.4,1153.3Q820.0,1165.6 833.4,1163.5M772.0,1114.9L809.4,1158.3Q820.0,1170.6 833.4,1168.5M772.0,1119.9L809.4,1163.4Q820.0,1175.6 833.4,1173.6M772.0,1124.9L809.4,1168.4Q820.0,1180.7 833.4,1178.7M772.0,1129.9L809.4,1173.4Q820.0,1185.7 833.4,1183.7M772.0,1134.9L809.4,1178.5Q820.0,1190.7 833.4,1188.8M772.0,1139.9L809.4,1183.5Q820.0,1195.8 833.4,1193.9M772.0,1145.0L809.4,1188.5Q820.0,1200.8 833.4,1198.9M772.0,1150.0L809.4,1193.6Q820.0,1205.8 833.4,1204.0M772.0,1155.0L809.4,1198.6Q820.0,1210.9 833.4,1209.1M772.0,1160.0L809.4,1203.6Q820.0,1215.9 833.4,1214.1M772.0,1165.0L809.4,1208.6Q820.0,1221.0 833.4,1219.2M772.0,1170.0L809.4,1213.7Q820.0,1226.0 833.4,1224.3" stroke="#50bc1c" stroke-width="1.9" stroke-linecap="butt"/>
<line x1="773.5" y1="570.8" x2="773.5" y2="1170.0" stroke="#42a014" stroke-width="3.2" stroke-dasharray="3 2" stroke-linecap="butt"/>
<polygon points="820.0,621.5 963.4,566.1 963.4,1207.4 820.0,1226.0" fill="#58c428" stroke="none"/>
<polygon points="871.7,601.5 887.6,595.4 887.6,1217.2 871.7,1219.3" fill="#6ada32" stroke="none"/>
<polygon points="925.5,580.8 957.3,568.5 957.3,1208.2 925.5,1212.3" fill="#6ada32" stroke="none"/>
<clipPath id="rf"><polygon points="820.0,621.5 963.4,566.1 963.4,1207.4 820.0,1226.0"/></clipPath>
<path d="M831.2,595.3L963.4,557.9M831.2,603.0L963.4,565.8M831.2,610.7L963.4,573.7M831.2,618.3L963.4,581.6M831.2,626.0L963.4,589.5M831.2,633.7L963.4,597.5M831.2,641.4L963.4,605.4M831.2,649.0L963.4,613.3M831.2,656.7L963.4,621.2M831.2,664.4L963.4,629.2M831.2,672.1L963.4,637.1M831.2,679.7L963.4,645.0M831.2,687.4L963.4,652.9M831.2,695.1L963.4,660.8M831.2,702.8L963.4,668.8M831.2,710.4L963.4,676.7M831.2,718.1L963.4,684.6M831.2,725.8L963.4,692.5M831.2,733.4L963.4,700.5M831.2,741.1L963.4,708.4M831.2,748.8L963.4,716.3M831.2,756.5L963.4,724.2M831.2,764.1L963.4,732.1M831.2,771.8L963.4,740.1M831.2,779.5L963.4,748.0M831.2,787.2L963.4,755.9M831.2,794.8L963.4,763.8M831.2,802.5L963.4,771.7M831.2,810.2L963.4,779.7M831.2,817.9L963.4,787.6M831.2,825.5L963.4,795.5M831.2,833.2L963.4,803.4M831.2,840.9L963.4,811.4M831.2,848.5L963.4,819.3M831.2,856.2L963.4,827.2M831.2,863.9L963.4,835.1M831.2,871.6L963.4,843.0M831.2,879.2L963.4,851.0M831.2,886.9L963.4,858.9M831.2,894.6L963.4,866.8M831.2,902.3L963.4,874.7M831.2,909.9L963.4,882.7M831.2,917.6L963.4,890.6M831.2,925.3L963.4,898.5M831.2,933.0L963.4,906.4M831.2,940.6L963.4,914.3M831.2,948.3L963.4,922.3M831.2,956.0L963.4,930.2M831.2,963.7L963.4,938.1M831.2,971.3L963.4,946.0M831.2,979.0L963.4,953.9M831.2,986.7L963.4,961.9M831.2,994.3L963.4,969.8M831.2,1002.0L963.4,977.7M831.2,1009.7L963.4,985.6M831.2,1017.4L963.4,993.6M831.2,1025.0L963.4,1001.5M831.2,1032.7L963.4,1009.4M831.2,1040.4L963.4,1017.3M831.2,1048.1L963.4,1025.2M831.2,1055.7L963.4,1033.2M831.2,1063.4L963.4,1041.1M831.2,1071.1L963.4,1049.0M831.2,1078.8L963.4,1056.9M831.2,1086.4L963.4,1064.8M831.2,1094.1L963.4,1072.8M831.2,1101.8L963.4,1080.7M831.2,1109.4L963.4,1088.6M831.2,1117.1L963.4,1096.5M831.2,1124.8L963.4,1104.5M831.2,1132.5L963.4,1112.4M831.2,1140.1L963.4,1120.3M831.2,1147.8L963.4,1128.2M831.2,1155.5L963.4,1136.1M831.2,1163.2L963.4,1144.1M831.2,1170.8L963.4,1152.0M831.2,1178.5L963.4,1159.9M831.2,1186.2L963.4,1167.8M831.2,1193.9L963.4,1175.8M831.2,1201.5L963.4,1183.7M831.2,1209.2L963.4,1191.6M831.2,1216.9L963.4,1199.5M831.2,1224.5L963.4,1207.4" stroke="#3e981a" stroke-width="2.8" stroke-linecap="butt" opacity=".8" clip-path="url(#rf)"/>
<path d="M961.1,558.5L1044.0,535.0M961.1,566.4L1044.0,543.1M961.1,574.3L1044.0,551.1M961.1,582.2L1044.0,559.2M961.1,590.2L1044.0,567.3M961.1,598.1L1044.0,575.4M961.1,606.0L1044.0,583.4M961.1,613.9L1044.0,591.5M961.1,621.8L1044.0,599.6M961.1,629.8L1044.0,607.7M961.1,637.7L1044.0,615.7M961.1,645.6L1044.0,623.8M961.1,653.5L1044.0,631.9M961.1,661.4L1044.0,640.0M961.1,669.3L1044.0,648.0M961.1,677.3L1044.0,656.1M961.1,685.2L1044.0,664.2M961.1,693.1L1044.0,672.2M961.1,701.0L1044.0,680.3M961.1,708.9L1044.0,688.4M961.1,716.8L1044.0,696.5M961.1,724.8L1044.0,704.5M961.1,732.7L1044.0,712.6M961.1,740.6L1044.0,720.7M961.1,748.5L1044.0,728.8M961.1,756.4L1044.0,736.8M961.1,764.4L1044.0,744.9M961.1,772.3L1044.0,753.0M961.1,780.2L1044.0,761.0M961.1,788.1L1044.0,769.1M961.1,796.0L1044.0,777.2M961.1,803.9L1044.0,785.3M961.1,811.9L1044.0,793.3M961.1,819.8L1044.0,801.4M961.1,827.7L1044.0,809.5M961.1,835.6L1044.0,817.6M961.1,843.5L1044.0,825.6M961.1,851.4L1044.0,833.7M961.1,859.4L1044.0,841.8M961.1,867.3L1044.0,849.9M961.1,875.2L1044.0,857.9M961.1,883.1L1044.0,866.0M961.1,891.0L1044.0,874.1M961.1,898.9L1044.0,882.1M961.1,906.9L1044.0,890.2M961.1,914.8L1044.0,898.3M961.1,922.7L1044.0,906.4M961.1,930.6L1044.0,914.4M961.1,938.5L1044.0,922.5M961.1,946.5L1044.0,930.6M961.1,954.4L1044.0,938.7M961.1,962.3L1044.0,946.7M961.1,970.2L1044.0,954.8M961.1,978.1L1044.0,962.9M961.1,986.0L1044.0,971.0M961.1,994.0L1044.0,979.0M961.1,1001.9L1044.0,987.1M961.1,1009.8L1044.0,995.2M961.1,1017.7L1044.0,1003.2M961.1,1025.6L1044.0,1011.3M961.1,1033.5L1044.0,1019.4M961.1,1041.5L1044.0,1027.5M961.1,1049.4L1044.0,1035.5M961.1,1057.3L1044.0,1043.6M961.1,1065.2L1044.0,1051.7M961.1,1073.1L1044.0,1059.8M961.1,1081.1L1044.0,1067.8M961.1,1089.0L1044.0,1075.9M961.1,1096.9L1044.0,1084.0M961.1,1104.8L1044.0,1092.0M961.1,1112.7L1044.0,1100.1M961.1,1128.6L1044.0,1116.3M961.1,1144.4L1044.0,1132.4M961.1,1160.2L1044.0,1148.6M961.1,1176.1L1044.0,1164.7M961.1,1191.9L1044.0,1180.9M961.1,1207.7L1044.0,1197.0" stroke="#459a22" stroke-width="4.9"/>
<path d="M961.1,558.5L1044.0,535.0M961.1,566.4L1044.0,543.1M961.1,574.3L1044.0,551.1M961.1,582.2L1044.0,559.2M961.1,590.2L1044.0,567.3M961.1,598.1L1044.0,575.4M961.1,606.0L1044.0,583.4M961.1,613.9L1044.0,591.5M961.1,621.8L1044.0,599.6M961.1,629.8L1044.0,607.7M961.1,637.7L1044.0,615.7M961.1,645.6L1044.0,623.8M961.1,653.5L1044.0,631.9M961.1,661.4L1044.0,640.0M961.1,669.3L1044.0,648.0M961.1,677.3L1044.0,656.1M961.1,685.2L1044.0,664.2M961.1,693.1L1044.0,672.2M961.1,701.0L1044.0,680.3M961.1,708.9L1044.0,688.4M961.1,716.8L1044.0,696.5M961.1,724.8L1044.0,704.5M961.1,732.7L1044.0,712.6M961.1,740.6L1044.0,720.7M961.1,748.5L1044.0,728.8M961.1,756.4L1044.0,736.8M961.1,764.4L1044.0,744.9M961.1,772.3L1044.0,753.0M961.1,780.2L1044.0,761.0M961.1,788.1L1044.0,769.1M961.1,796.0L1044.0,777.2M961.1,803.9L1044.0,785.3M961.1,811.9L1044.0,793.3M961.1,819.8L1044.0,801.4M961.1,827.7L1044.0,809.5M961.1,835.6L1044.0,817.6M961.1,843.5L1044.0,825.6M961.1,851.4L1044.0,833.7M961.1,859.4L1044.0,841.8M961.1,867.3L1044.0,849.9M961.1,875.2L1044.0,857.9M961.1,883.1L1044.0,866.0M961.1,891.0L1044.0,874.1M961.1,898.9L1044.0,882.1M961.1,906.9L1044.0,890.2M961.1,914.8L1044.0,898.3M961.1,922.7L1044.0,906.4M961.1,930.6L1044.0,914.4M961.1,938.5L1044.0,922.5M961.1,946.5L1044.0,930.6M961.1,954.4L1044.0,938.7M961.1,962.3L1044.0,946.7M961.1,970.2L1044.0,954.8M961.1,978.1L1044.0,962.9M961.1,986.0L1044.0,971.0M961.1,994.0L1044.0,979.0M961.1,1001.9L1044.0,987.1M961.1,1009.8L1044.0,995.2M961.1,1017.7L1044.0,1003.2M961.1,1025.6L1044.0,1011.3M961.1,1033.5L1044.0,1019.4M961.1,1041.5L1044.0,1027.5M961.1,1049.4L1044.0,1035.5M961.1,1057.3L1044.0,1043.6M961.1,1065.2L1044.0,1051.7M961.1,1073.1L1044.0,1059.8M961.1,1081.1L1044.0,1067.8M961.1,1089.0L1044.0,1075.9M961.1,1096.9L1044.0,1084.0M961.1,1104.8L1044.0,1092.0M961.1,1112.7L1044.0,1100.1M961.1,1128.6L1044.0,1116.3M961.1,1144.4L1044.0,1132.4M961.1,1160.2L1044.0,1148.6M961.1,1176.1L1044.0,1164.7M961.1,1191.9L1044.0,1180.9M961.1,1207.7L1044.0,1197.0" stroke="#76d83e" stroke-width="2.0"/>
<path d="M961.1,558.5L1044.0,535.0M961.1,566.4L1044.0,543.1M961.1,574.3L1044.0,551.1M961.1,582.2L1044.0,559.2M961.1,590.2L1044.0,567.3M961.1,598.1L1044.0,575.4M961.1,606.0L1044.0,583.4M961.1,613.9L1044.0,591.5M961.1,621.8L1044.0,599.6M961.1,629.8L1044.0,607.7M961.1,637.7L1044.0,615.7M961.1,645.6L1044.0,623.8M961.1,653.5L1044.0,631.9M961.1,661.4L1044.0,640.0M961.1,669.3L1044.0,648.0M961.1,677.3L1044.0,656.1M961.1,685.2L1044.0,664.2M961.1,693.1L1044.0,672.2M961.1,701.0L1044.0,680.3M961.1,708.9L1044.0,688.4M961.1,716.8L1044.0,696.5M961.1,724.8L1044.0,704.5M961.1,732.7L1044.0,712.6M961.1,740.6L1044.0,720.7M961.1,748.5L1044.0,728.8M961.1,756.4L1044.0,736.8M961.1,764.4L1044.0,744.9M961.1,772.3L1044.0,753.0M961.1,780.2L1044.0,761.0M961.1,788.1L1044.0,769.1M961.1,796.0L1044.0,777.2M961.1,803.9L1044.0,785.3M961.1,811.9L1044.0,793.3M961.1,819.8L1044.0,801.4M961.1,827.7L1044.0,809.5M961.1,835.6L1044.0,817.6M961.1,843.5L1044.0,825.6M961.1,851.4L1044.0,833.7M961.1,859.4L1044.0,841.8M961.1,867.3L1044.0,849.9M961.1,875.2L1044.0,857.9M961.1,883.1L1044.0,866.0M961.1,891.0L1044.0,874.1M961.1,898.9L1044.0,882.1M961.1,906.9L1044.0,890.2M961.1,914.8L1044.0,898.3M961.1,922.7L1044.0,906.4M961.1,930.6L1044.0,914.4M961.1,938.5L1044.0,922.5M961.1,946.5L1044.0,930.6M961.1,954.4L1044.0,938.7M961.1,962.3L1044.0,946.7M961.1,970.2L1044.0,954.8M961.1,978.1L1044.0,962.9M961.1,986.0L1044.0,971.0M961.1,994.0L1044.0,979.0M961.1,1001.9L1044.0,987.1M961.1,1009.8L1044.0,995.2M961.1,1017.7L1044.0,1003.2M961.1,1025.6L1044.0,1011.3M961.1,1033.5L1044.0,1019.4M961.1,1041.5L1044.0,1027.5M961.1,1049.4L1044.0,1035.5M961.1,1057.3L1044.0,1043.6M961.1,1065.2L1044.0,1051.7M961.1,1073.1L1044.0,1059.8M961.1,1081.1L1044.0,1067.8M961.1,1089.0L1044.0,1075.9M961.1,1096.9L1044.0,1084.0M961.1,1104.8L1044.0,1092.0M961.1,1112.7L1044.0,1100.1M961.1,1128.6L1044.0,1116.3M961.1,1144.4L1044.0,1132.4M961.1,1160.2L1044.0,1148.6M961.1,1176.1L1044.0,1164.7M961.1,1191.9L1044.0,1180.9M961.1,1207.7L1044.0,1197.0" stroke="#3c8a26" stroke-width="4.9" clip-path="url(#bpc)"/>
<path d="M961.1,558.5L1044.0,535.0M961.1,566.4L1044.0,543.1M961.1,574.3L1044.0,551.1M961.1,582.2L1044.0,559.2M961.1,590.2L1044.0,567.3M961.1,598.1L1044.0,575.4M961.1,606.0L1044.0,583.4M961.1,613.9L1044.0,591.5M961.1,621.8L1044.0,599.6M961.1,629.8L1044.0,607.7M961.1,637.7L1044.0,615.7M961.1,645.6L1044.0,623.8M961.1,653.5L1044.0,631.9M961.1,661.4L1044.0,640.0M961.1,669.3L1044.0,648.0M961.1,677.3L1044.0,656.1M961.1,685.2L1044.0,664.2M961.1,693.1L1044.0,672.2M961.1,701.0L1044.0,680.3M961.1,708.9L1044.0,688.4M961.1,716.8L1044.0,696.5M961.1,724.8L1044.0,704.5M961.1,732.7L1044.0,712.6M961.1,740.6L1044.0,720.7M961.1,748.5L1044.0,728.8M961.1,756.4L1044.0,736.8M961.1,764.4L1044.0,744.9M961.1,772.3L1044.0,753.0M961.1,780.2L1044.0,761.0M961.1,788.1L1044.0,769.1M961.1,796.0L1044.0,777.2M961.1,803.9L1044.0,785.3M961.1,811.9L1044.0,793.3M961.1,819.8L1044.0,801.4M961.1,827.7L1044.0,809.5M961.1,835.6L1044.0,817.6M961.1,843.5L1044.0,825.6M961.1,851.4L1044.0,833.7M961.1,859.4L1044.0,841.8M961.1,867.3L1044.0,849.9M961.1,875.2L1044.0,857.9M961.1,883.1L1044.0,866.0M961.1,891.0L1044.0,874.1M961.1,898.9L1044.0,882.1M961.1,906.9L1044.0,890.2M961.1,914.8L1044.0,898.3M961.1,922.7L1044.0,906.4M961.1,930.6L1044.0,914.4M961.1,938.5L1044.0,922.5M961.1,946.5L1044.0,930.6M961.1,954.4L1044.0,938.7M961.1,962.3L1044.0,946.7M961.1,970.2L1044.0,954.8M961.1,978.1L1044.0,962.9M961.1,986.0L1044.0,971.0M961.1,994.0L1044.0,979.0M961.1,1001.9L1044.0,987.1M961.1,1009.8L1044.0,995.2M961.1,1017.7L1044.0,1003.2M961.1,1025.6L1044.0,1011.3M961.1,1033.5L1044.0,1019.4M961.1,1041.5L1044.0,1027.5M961.1,1049.4L1044.0,1035.5M961.1,1057.3L1044.0,1043.6M961.1,1065.2L1044.0,1051.7M961.1,1073.1L1044.0,1059.8M961.1,1081.1L1044.0,1067.8M961.1,1089.0L1044.0,1075.9M961.1,1096.9L1044.0,1084.0M961.1,1104.8L1044.0,1092.0M961.1,1112.7L1044.0,1100.1M961.1,1128.6L1044.0,1116.3M961.1,1144.4L1044.0,1132.4M961.1,1160.2L1044.0,1148.6M961.1,1176.1L1044.0,1164.7M961.1,1191.9L1044.0,1180.9M961.1,1207.7L1044.0,1197.0" stroke="#55ae30" stroke-width="1.8" clip-path="url(#bpc)"/>
<line x1="829.9" y1="619.7" x2="829.9" y2="1224.7" stroke="#a8641f" stroke-width="5.4" stroke-linecap="butt"/>
<line x1="829.9" y1="619.7" x2="829.9" y2="1224.7" stroke="#c98430" stroke-width="2.6" stroke-dasharray="2.6 1.4" stroke-linecap="butt"/>
<line x1="866.6" y1="605.5" x2="866.6" y2="1220.0" stroke="#a8641f" stroke-width="5.4" stroke-linecap="butt"/>
<line x1="866.6" y1="605.5" x2="866.6" y2="1220.0" stroke="#c98430" stroke-width="2.6" stroke-dasharray="2.6 1.4" stroke-linecap="butt"/>
<line x1="889.7" y1="596.6" x2="889.7" y2="1217.0" stroke="#a8641f" stroke-width="5.4" stroke-linecap="butt"/>
<line x1="889.7" y1="596.6" x2="889.7" y2="1217.0" stroke="#c98430" stroke-width="2.6" stroke-dasharray="2.6 1.4" stroke-linecap="butt"/>
<line x1="918.6" y1="585.4" x2="918.6" y2="1213.2" stroke="#a8641f" stroke-width="5.4" stroke-linecap="butt"/>
<line x1="918.6" y1="585.4" x2="918.6" y2="1213.2" stroke="#c98430" stroke-width="2.6" stroke-dasharray="2.6 1.4" stroke-linecap="butt"/>
<line x1="962.5" y1="568.5" x2="962.5" y2="1207.6" stroke="#a8641f" stroke-width="5.4" stroke-linecap="butt"/>
<line x1="962.5" y1="568.5" x2="962.5" y2="1207.6" stroke="#c98430" stroke-width="2.6" stroke-dasharray="2.6 1.4" stroke-linecap="butt"/>
<path d="M641.5,401.0L677.1,450.9Q680.0,455.0 684.7,453.2L828.5,397.8" stroke="#4fb31b" stroke-width="3.6"/>
<path d="M641.5,401.0L677.1,450.9Q680.0,455.0 684.7,453.2L828.5,397.8" stroke="#86f244" stroke-width="1.6"/>
<path d="M671.9,392.8L704.3,437.0Q707.3,441.1 711.9,439.3L826.4,395.3" stroke="#4fb31b" stroke-width="3.6"/>
<path d="M671.9,392.8L704.3,437.0Q707.3,441.1 711.9,439.3L826.4,395.3" stroke="#86f244" stroke-width="1.6"/>
<path d="M733.0,373.0L762.6,411.2Q765.7,415.2 770.4,413.4L824.2,392.7" stroke="#4fb31b" stroke-width="3.6"/>
<path d="M733.0,373.0L762.6,411.2Q765.7,415.2 770.4,413.4L824.2,392.7" stroke="#86f244" stroke-width="1.6"/>
<path d="M828.5,397.8L684.7,453.2Q680.0,455.0 683.1,458.9L720.6,506.5Q723.7,510.4 728.4,508.7L872.4,455.1" stroke="#4fb31b" stroke-width="3.6"/>
<path d="M828.5,397.8L684.7,453.2Q680.0,455.0 683.1,458.9L720.6,506.5Q723.7,510.4 728.4,508.7L872.4,455.1" stroke="#86f244" stroke-width="1.6"/>
<path d="M830.7,400.7L716.1,444.7Q711.4,446.5 714.5,450.5L747.7,492.8Q750.8,496.7 755.5,495.0L870.2,452.2" stroke="#4fb31b" stroke-width="3.6"/>
<path d="M830.7,400.7L716.1,444.7Q711.4,446.5 714.5,450.5L747.7,492.8Q750.8,496.7 755.5,495.0L870.2,452.2" stroke="#86f244" stroke-width="1.6"/>
<path d="M832.9,403.6L778.8,424.3Q774.2,426.1 777.2,430.0L806.2,467.4Q809.2,471.3 813.9,469.6L868.0,449.4" stroke="#4fb31b" stroke-width="3.6"/>
<path d="M832.9,403.6L778.8,424.3Q774.2,426.1 777.2,430.0L806.2,467.4Q809.2,471.3 813.9,469.6L868.0,449.4" stroke="#86f244" stroke-width="1.6"/>
<path d="M872.4,455.1L728.4,508.7Q723.7,510.4 726.9,514.3L768.8,564.9Q772.0,568.8 776.6,567.0L917.9,510.7" stroke="#4fb31b" stroke-width="3.6"/>
<path d="M872.4,455.1L728.4,508.7Q723.7,510.4 726.9,514.3L768.8,564.9Q772.0,568.8 776.6,567.0L917.9,510.7" stroke="#86f244" stroke-width="1.6"/>
<path d="M874.6,457.9L760.0,500.7Q755.4,502.4 758.5,506.3L795.2,550.6Q798.3,554.5 803.0,552.6L915.6,507.9" stroke="#4fb31b" stroke-width="3.6"/>
<path d="M874.6,457.9L760.0,500.7Q755.4,502.4 758.5,506.3L795.2,550.6Q798.3,554.5 803.0,552.6L915.6,507.9" stroke="#86f244" stroke-width="1.6"/>
<path d="M876.9,460.7L822.9,480.9Q818.3,482.6 821.4,486.5L852.4,524.1Q855.6,528.0 860.2,526.2L913.4,505.1" stroke="#4fb31b" stroke-width="3.6"/>
<path d="M876.9,460.7L822.9,480.9Q818.3,482.6 821.4,486.5L852.4,524.1Q855.6,528.0 860.2,526.2L913.4,505.1" stroke="#86f244" stroke-width="1.6"/>
<path d="M917.9,510.7L776.6,567.0Q772.0,568.8 775.4,572.5L816.6,617.8Q820.0,621.5 824.7,619.7L963.4,566.1" stroke="#4fb31b" stroke-width="3.6"/>
<path d="M917.9,510.7L776.6,567.0Q772.0,568.8 775.4,572.5L816.6,617.8Q820.0,621.5 824.7,619.7L963.4,566.1" stroke="#86f244" stroke-width="1.6"/>
<path d="M920.2,513.5L807.7,558.2Q803.1,560.0 806.4,563.8L842.5,604.2Q845.8,607.9 850.5,606.1L961.1,563.4" stroke="#4fb31b" stroke-width="3.6"/>
<path d="M920.2,513.5L807.7,558.2Q803.1,560.0 806.4,563.8L842.5,604.2Q845.8,607.9 850.5,606.1L961.1,563.4" stroke="#86f244" stroke-width="1.6"/>
<path d="M922.5,516.2L869.5,537.3Q864.9,539.1 868.1,542.9L898.8,578.8Q902.0,582.6 906.7,580.8L958.8,560.6" stroke="#4fb31b" stroke-width="3.6"/>
<path d="M922.5,516.2L869.5,537.3Q864.9,539.1 868.1,542.9L898.8,578.8Q902.0,582.6 906.7,580.8L958.8,560.6" stroke="#86f244" stroke-width="1.6"/>
</g>
<g id="cover1">
<path d="M395.5,152 Q395,141 411,135.7 L679,10.8 Q683,8.8 685.5,12.5 L881.8,260.2 L882.7,264 L882.7,276.5 C860,279 845,282 828.9,286.6 L759.8,310.8 L690.8,335 L601,369.5 Q585,376 572,370 Q566,366 560,358 Z" fill="#cc64e8"/>
<path d="M881.8,260.5 L882.7,264 L882.7,276.5 C860,279 845,282 828.9,286.6 L759.8,310.8 L690.8,335 L601,369.5 Q585,376 572,370 Q585,373 600,367 L690,332.5 L760,307.5 L800,291.5 C830,280 860,269 881.8,260.5Z" fill="#9a46ba"/>
<line x1="437" y1="202" x2="658" y2="110.5" stroke="#73329a" stroke-width="2.6"/>
<line x1="483.6" y1="258.3" x2="704.6" y2="166.8" stroke="#73329a" stroke-width="2.6"/>
<line x1="526.8" y1="314.2" x2="749.5" y2="222.7" stroke="#73329a" stroke-width="2.6"/>
</g>
<g id="warmor">
<path d="M176.8,525.5 Q177,512 190.7,507.9 L190.7,544 Q180,533 176.8,525.5Z" fill="#46527a"/>
<path d="M176.8,524.6 Q180,532 190.7,544.1 L213.9,569.2 L345.9,738.4 L383.5,747.7 L383.5,1363 Q365,1363 359.2,1360 Q352,1358 347.3,1354 L176.9,1137.8 Z" fill="#6272a0"/>
<path d="M345,738 L383.5,747.7 L383.5,1363 Q365,1363 359.2,1360 Q352,1358 347.3,1354 L336,1340 L336,727Z" fill="url(#wag)"/>
</g>
<g id="fwback">
<polygon points="214.0,516.0 238.0,498.6 502.6,375.9 505.0,374.6 505.0,740.0 399.0,745.0 380.0,745.0" fill="#6c721a" stroke="#6c721a" stroke-width="0.6" stroke-linejoin="round" />
<g fill="#9a9a30">
<circle cx="469.8" cy="407.8" r="1.8"/>
<circle cx="491.7" cy="419.8" r="1.8"/>
<circle cx="469.8" cy="432.7" r="1.8"/>
<circle cx="491.7" cy="432.7" r="1.8"/>
<circle cx="469.8" cy="445.7" r="1.8"/>
<circle cx="491.7" cy="445.7" r="1.8"/>
<circle cx="469.8" cy="458.6" r="1.8"/>
<circle cx="491.7" cy="458.6" r="1.8"/>
<circle cx="469.8" cy="471.5" r="1.8"/>
<circle cx="491.7" cy="471.5" r="1.8"/>
</g>
</g>
<clipPath id="inU"><polygon points="226,522 385,723 399.8,733.5 708,629.5 708,350 226,350"/></clipPath>
<g id="sp" clip-path="url(#inU)">
<polygon points="310.0,552.6 535.5,462.6 535.5,692.6 310.0,782.6" fill="#4b7276" stroke="#4b7276" stroke-width="0.6" stroke-linejoin="round" />
<path d="M310,782.6 L310,552.6 L535.5,462.6" fill="none" stroke="#a8e6ea" stroke-width="1.6"/>
<polygon points="355.2,608.3 579.3,518.4 579.3,748.4 355.2,838.3" fill="#4b7276" stroke="#4b7276" stroke-width="0.6" stroke-linejoin="round" />
<path d="M355.2,838.3 L355.2,608.3 L579.3,518.4" fill="none" stroke="#a8e6ea" stroke-width="1.6"/>
<polygon points="400.5,665.5 625.5,575.3 625.5,805.3 400.5,895.5" fill="#4b7276" stroke="#4b7276" stroke-width="0.6" stroke-linejoin="round" />
<path d="M400.5,895.5 L400.5,665.5 L625.5,575.3" fill="none" stroke="#a8e6ea" stroke-width="1.6"/>
</g>
<g id="fwfront">
<path d="M383,744 L708,627.2 L708.4,1327.4 L400,1352.5 Q388,1352 383.1,1339 Z" fill="#6c721a"/>
<path d="M383,744 L416,733 L416,1351 L400,1352.5 Q388,1352 383.1,1339 Z" fill="url(#fwg)"/>
<path d="M500,370.6 L505.3,374.6 L502.6,376.3 L279,481.5 L238.1,498.6 Q227,503 224.1,512.5 Q223,517 226,522 L385,721.7 Q391,729.5 399.8,731 Q404,731.5 410,729.5 L708,627.2 L708,630 L420,732.5 L383,746.5 L381.5,747.7 L345.9,738.4 L213,567.4 L211.1,515.3 Q212,505 221.3,500.4 L275.3,480 Z" fill="#e9ea2a"/>
<path d="M213,567.4 L211.1,515.3 Q212,505 221.3,500.4 L228,497.7 Q216,505 216,516 L217.5,560 L352,733 L381.5,744 L381.5,747.7 L345.9,738.4Z" fill="#f4f56a" opacity=".55"/>
</g>
<g id="cover2">
<path d="M813.8,1281.1 Q813,1271 827.6,1267.3 L1024.4,1234.5 C1050,1230 1075,1219 1095,1212.6 L1098.7,1212.3 L1300.3,1463.2 L1301.3,1465.1 L1301.3,1477 C1280,1479 1260,1480.5 1238.7,1482 L1179.2,1489 L1060,1497.9 L1007.2,1502.1 Q995,1503 988.2,1497 Z" fill="#bf5bdb"/>
<path d="M1040,1231.5 C1060,1226 1080,1217 1095,1212.6 L1098.7,1212.3 L1300.3,1463.2 L1301.3,1465.1 L1226,1474Z" fill="#c560e0"/>
<path d="M1301.3,1465.1 L1301.3,1477 C1280,1479 1260,1480.5 1238.7,1482 L1179.2,1489 L1060,1497.9 L1007.2,1502.1 Q995,1503 988.2,1497 Q996,1499.5 1007,1498.5 L1060,1494 L1179,1483.5 C1220,1479 1262,1473 1301.3,1465.1Z" fill="#9440b2"/>
<polygon points="1028.0,1234.0 1040.0,1231.5 1226.0,1474.0 1213.0,1475.5" fill="#cf74e8" stroke="#cf74e8" stroke-width="0.6" stroke-linejoin="round" opacity=".8"/>
<path d="M1062,1245.7 l13,-2 l13,19 l-13,2z" fill="#b85fd2" opacity=".75"/>
<path d="M1105,1300.5 l13,-2 l13,19 l-13,2z" fill="#b85fd2" opacity=".75"/>
<path d="M1150,1357.5 l13,-2 l13,19 l-13,2z" fill="#b85fd2" opacity=".75"/>
<path d="M1196,1415 l13,-2 l13,19 l-13,2z" fill="#b85fd2" opacity=".75"/>
<line x1="853.5" y1="1328.5" x2="1075.9" y2="1300.3" stroke="#7a3898" stroke-width="2.4"/>
<line x1="898.4" y1="1383" x2="1119.6" y2="1356.9" stroke="#7a3898" stroke-width="2.4"/>
<line x1="948.5" y1="1441" x2="1165.3" y2="1413.5" stroke="#7a3898" stroke-width="2.4"/>
<line x1="1092.8" y1="1297.3" x2="1103.7" y2="1295.3" stroke="#7a3898" stroke-width="2.2"/>
<line x1="1137.5" y1="1353.9" x2="1148.4" y2="1351.9" stroke="#7a3898" stroke-width="2.2"/>
<line x1="1183.1" y1="1410.1" x2="1194.0" y2="1408.1" stroke="#7a3898" stroke-width="2.2"/>
<line x1="1049" y1="1241" x2="1060" y2="1239" stroke="#8a44aa" stroke-width="2"/>
</g>
<g id="labels" font-family="'Liberation Serif', serif" fill="#000">
<text transform="translate(203.50,228.10) scale(0.9230,1)" font-size="58.50" stroke-width="0.7" stroke="#000">Cover</text>
<text transform="translate(934.50,130.20) scale(0.9500,1)" font-size="57.50" stroke-width="0.7" stroke="#000">Cooling</text>
<text transform="translate(935.80,194.60) scale(0.9400,1)" font-size="57.50" stroke-width="0.7" stroke="#000">tubes</text>
<text transform="translate(1404.00,197.90) scale(1.0100,1)" font-size="56.00" stroke-width="0.7" stroke="#000">BSS</text>
<text transform="translate(31.20,658.20) scale(0.9850,1)" font-size="58.50" stroke-width="0.7" stroke="#000">SP</text>
<text transform="translate(7.30,1275.40) scale(0.9300,1)" font-size="57.50" stroke-width="0.7" stroke="#000">W armor</text>
<text transform="translate(480.40,1462.60) scale(0.9550,1)" font-size="57.50" stroke-width="0.7" stroke="#000">FW</text>
<text transform="translate(688.00,1459.70) scale(0.9250,1)" font-size="58.50" stroke-width="0.7" stroke="#000">Cover</text>
<text transform="translate(1297.00,1236.80) scale(0.9620,1)" font-size="58.50" stroke-width="0.7" stroke="#000">BP</text>
<text transform="translate(45.00,271.80) scale(1.0800,1)" font-size="39.60" stroke-width="0.4" fill="#9c2228" stroke="#9c2228">Pol.</text>
<text transform="translate(141.00,365.90) scale(1.0000,1)" font-size="39.60" stroke-width="0.4" fill="#9c2228" stroke="#9c2228">Rad.</text>
<text transform="translate(107.50,446.20) scale(1.0000,1)" font-size="39.60" stroke-width="0.4" fill="#9c2228" stroke="#9c2228">Tor.</text>
</g>
<g stroke="#000" stroke-width="2.4" fill="none" stroke-linecap="butt">
<line x1="363.3" y1="210.5" x2="494.5" y2="211"/>
<line x1="925.5" y1="179" x2="888.8" y2="411"/>
<line x1="1277.2" y1="179.3" x2="1384.3" y2="179.8"/>
<line x1="111" y1="639" x2="364" y2="537.5"/>
<line x1="111" y1="639" x2="425.7" y2="588.3"/>
<line x1="111" y1="639.6" x2="477.4" y2="639.5"/>
<line x1="216.8" y1="1256.4" x2="308.4" y2="1256.4"/>
<line x1="527.4" y1="1305" x2="527.4" y2="1398.5"/>
<line x1="850" y1="1440.7" x2="980.2" y2="1440"/>
<line x1="1179.1" y1="1144.5" x2="1287.1" y2="1217.6"/>
</g><g fill="#000">
<circle cx="494.5" cy="211.2" r="8.6"/>
<circle cx="888.8" cy="411" r="8.6"/>
<circle cx="1277.2" cy="179.2" r="8.6"/>
<circle cx="364" cy="537.5" r="8.6"/>
<circle cx="425.8" cy="588.3" r="8.6"/>
<circle cx="477.2" cy="639.6" r="8.6"/>
<circle cx="308.5" cy="1256.4" r="8.6"/>
<circle cx="527.4" cy="1305" r="8.6"/>
<circle cx="980.2" cy="1440" r="8.6"/>
<circle cx="1179.1" cy="1144.5" r="8.6"/>
</g>
<g stroke="#a81c22" stroke-width="4.2" fill="#a81c22" stroke-linecap="round">
<line x1="38" y1="366.8" x2="38" y2="286"/><line x1="38" y1="366.8" x2="121" y2="332.5"/><line x1="38" y1="366.8" x2="81" y2="422"/>
</g>
<g fill="#a81c22"><polygon points="38,272.5 30.2,287.5 45.8,287.5"/><polygon points="132.3,327.8 116.5,327 122.5,341.5"/><polygon points="89.9,434.2 74.5,426.5 87.5,416.5"/></g>
</svg>
</body></html>
